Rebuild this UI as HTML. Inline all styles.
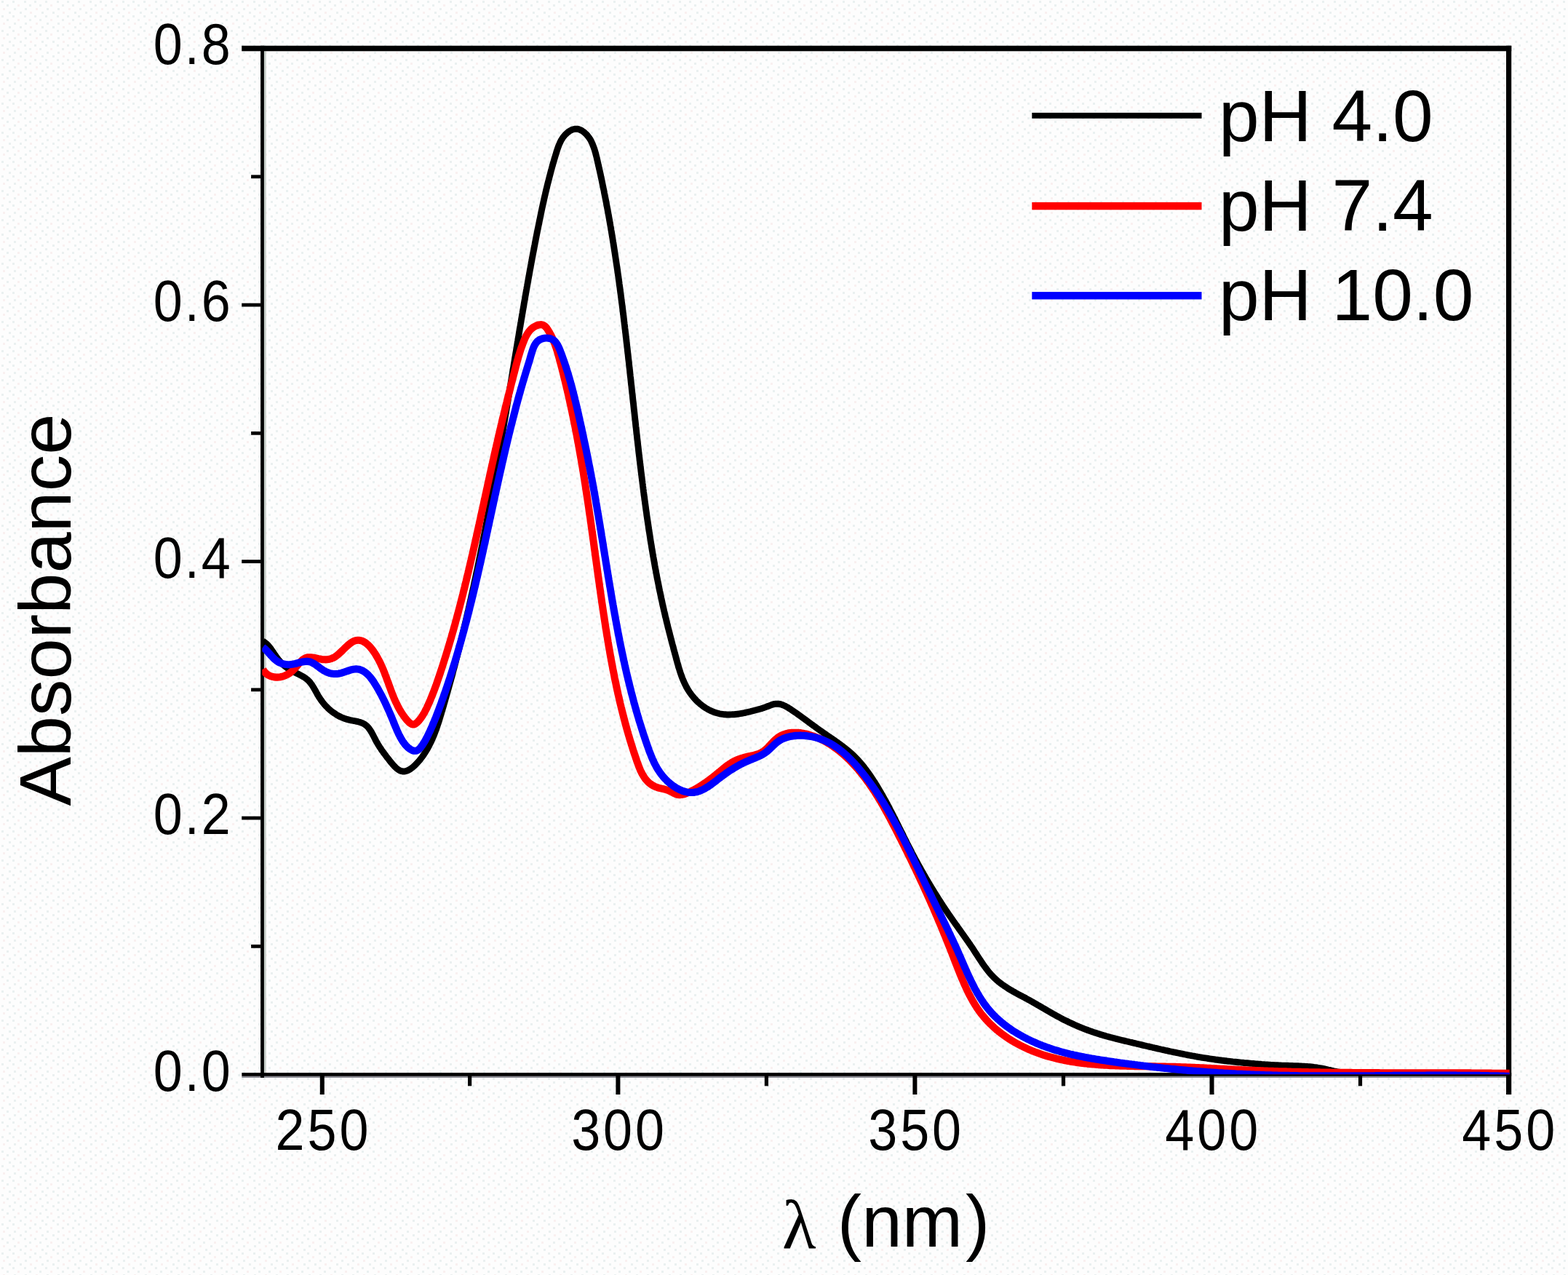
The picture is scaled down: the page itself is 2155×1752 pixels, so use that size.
<!DOCTYPE html>
<html lang="en"><head><meta charset="utf-8"><title>Absorbance spectra at pH 4.0, 7.4 and 10.0</title>
<style>
html,body{margin:0;padding:0;background:#fdfdfd;}
body{width:2155px;height:1752px;overflow:hidden;}
svg{display:block;}
text{font-family:"Liberation Sans",sans-serif;fill:#000;}
.tick{font-size:79px;}
.lab{font-size:100px;}
.sym{font-family:"Liberation Serif",serif;font-size:96px;}
</style></head><body>
<svg width="2155" height="1752" viewBox="0 0 2155 1752">
<defs><clipPath id="frame"><rect x="360.3" y="66.5" width="1714.3" height="1409.7"/></clipPath>
<pattern id="dots" width="45" height="20" patternUnits="userSpaceOnUse"><g fill="#e3ecec"><rect x="2" y="1" width="3" height="3"/><rect x="17" y="1" width="3" height="3"/><rect x="33" y="1" width="3" height="3"/><rect x="9" y="6" width="3" height="3"/><rect x="40" y="6" width="3" height="3"/><rect x="19" y="11" width="3" height="3"/><rect x="34" y="11" width="3" height="3"/><rect x="12" y="16" width="3" height="3"/><rect x="27" y="16" width="3" height="3"/></g><g fill="#f8ecec"><rect x="24" y="6" width="3" height="3"/><rect x="4" y="11" width="3" height="3"/><rect x="41" y="16" width="3" height="3"/></g></pattern></defs>
<rect width="2155" height="1752" fill="#fdfdfd"/>
<rect width="2155" height="1752" fill="url(#dots)" opacity="0.75"/>
<g>
<rect x="362.90" y="70.30" width="2.80" height="1403.80" fill="#c6cec8"/>
<rect x="332.30" y="1478.80" width="1737.70" height="2.20" fill="#8c8c94"/>
<rect x="332.20" y="62.80" width="1745.00" height="7.50" fill="#000"/>
<rect x="2070.00" y="62.80" width="7.20" height="1441.20" fill="#000"/>
<rect x="358.10" y="62.80" width="4.80" height="1418.20" fill="#000"/>
<rect x="332.30" y="1474.10" width="1744.90" height="4.70" fill="#000"/>
<rect x="332.20" y="1121.68" width="26.00" height="4.80" fill="#000"/>
<rect x="332.20" y="769.16" width="26.00" height="4.80" fill="#000"/>
<rect x="332.20" y="416.64" width="26.00" height="4.80" fill="#000"/>
<rect x="345.10" y="1297.94" width="13.10" height="4.80" fill="#000"/>
<rect x="345.10" y="945.42" width="13.10" height="4.80" fill="#000"/>
<rect x="345.10" y="592.90" width="13.10" height="4.80" fill="#000"/>
<rect x="345.10" y="240.38" width="13.10" height="4.80" fill="#000"/>
<rect x="439.80" y="1478.00" width="6.00" height="26.00" fill="#000"/>
<rect x="846.40" y="1478.00" width="6.00" height="26.00" fill="#000"/>
<rect x="1254.40" y="1478.00" width="6.00" height="26.00" fill="#000"/>
<rect x="1662.50" y="1478.00" width="6.00" height="26.00" fill="#000"/>
<rect x="643.00" y="1478.00" width="5.20" height="14.30" fill="#000"/>
<rect x="1050.80" y="1478.00" width="5.20" height="14.30" fill="#000"/>
<rect x="1458.90" y="1478.00" width="5.20" height="14.30" fill="#000"/>
<rect x="1866.90" y="1478.00" width="5.20" height="14.30" fill="#000"/>
</g>
<g clip-path="url(#frame)" fill="none" stroke-linejoin="round" stroke-linecap="butt">
<path stroke="#000000" stroke-width="8.9" d="M361.1 881.0 L362.9 882.1 L364.5 883.3 L366.1 884.5 L367.5 885.9 L368.9 887.4 L370.2 888.9 L371.5 890.5 L372.7 892.1 L373.8 893.8 L375.0 895.5 L376.1 897.2 L377.2 898.9 L378.4 900.5 L379.5 902.2 L380.7 903.9 L381.9 905.4 L383.1 907.0 L384.4 908.5 L385.7 910.0 L387.1 911.4 L388.5 912.7 L389.9 914.1 L391.4 915.3 L392.9 916.5 L394.5 917.7 L396.1 918.8 L397.7 919.9 L399.4 920.9 L401.2 921.9 L402.9 922.8 L404.7 923.7 L406.5 924.6 L408.3 925.4 L410.1 926.3 L411.9 927.2 L413.6 928.1 L415.4 929.1 L417.1 930.1 L418.7 931.1 L420.3 932.2 L421.8 933.4 L423.3 934.7 L424.7 936.0 L426.0 937.5 L427.2 939.1 L428.4 940.7 L429.5 942.4 L430.6 944.1 L431.6 945.9 L432.7 947.7 L433.7 949.5 L434.7 951.3 L435.7 953.2 L436.7 955.0 L437.8 956.8 L438.9 958.5 L440.0 960.2 L441.2 961.9 L442.4 963.6 L443.6 965.2 L444.9 966.8 L446.2 968.3 L447.5 969.8 L448.9 971.2 L450.3 972.6 L451.7 974.0 L453.2 975.3 L454.7 976.6 L456.2 977.8 L457.8 978.9 L459.4 980.1 L461.0 981.1 L462.6 982.2 L464.3 983.1 L466.0 984.1 L467.7 984.9 L469.5 985.7 L471.3 986.5 L473.1 987.2 L474.9 987.8 L476.8 988.4 L478.7 988.9 L480.6 989.4 L482.6 989.8 L484.5 990.2 L486.5 990.5 L488.4 990.9 L490.3 991.3 L492.2 991.7 L494.1 992.2 L495.9 992.8 L497.7 993.5 L499.4 994.3 L501.0 995.2 L502.5 996.3 L504.0 997.5 L505.4 998.9 L506.7 1000.4 L507.9 1002.1 L509.1 1003.8 L510.2 1005.6 L511.3 1007.5 L512.3 1009.4 L513.3 1011.3 L514.3 1013.2 L515.3 1015.1 L516.2 1017.0 L517.2 1018.8 L518.2 1020.6 L519.2 1022.3 L520.2 1023.9 L521.2 1025.6 L522.2 1027.2 L523.3 1028.7 L524.3 1030.3 L525.4 1031.8 L526.6 1033.4 L527.7 1035.0 L528.9 1036.5 L530.1 1038.2 L531.3 1039.8 L532.6 1041.5 L534.0 1043.2 L535.3 1045.0 L536.7 1046.8 L538.2 1048.5 L539.6 1050.2 L541.1 1051.9 L542.6 1053.5 L544.2 1055.0 L545.7 1056.3 L547.3 1057.4 L548.9 1058.4 L550.5 1059.2 L552.1 1059.7 L553.8 1060.0 L555.4 1060.0 L557.0 1059.8 L558.6 1059.4 L560.3 1058.8 L561.9 1058.0 L563.4 1057.1 L565.0 1056.0 L566.6 1054.8 L568.1 1053.6 L569.6 1052.2 L571.1 1050.8 L572.5 1049.3 L573.9 1047.8 L575.3 1046.3 L576.6 1044.7 L577.9 1043.1 L579.2 1041.4 L580.4 1039.8 L581.6 1038.1 L582.8 1036.4 L583.9 1034.7 L585.0 1032.9 L586.1 1031.2 L587.1 1029.4 L588.1 1027.7 L589.1 1025.9 L590.0 1024.1 L590.9 1022.3 L591.8 1020.5 L592.7 1018.7 L593.5 1016.9 L594.3 1015.0 L595.1 1013.2 L595.9 1011.4 L596.7 1009.5 L597.4 1007.7 L598.1 1005.8 L598.8 1004.0 L599.5 1002.1 L600.1 1000.2 L600.8 998.4 L601.4 996.5 L602.0 994.6 L602.7 992.7 L603.3 990.8 L603.9 988.9 L604.4 987.0 L605.0 985.1 L605.6 983.2 L606.2 981.3 L606.7 979.4 L607.3 977.5 L607.9 975.6 L608.4 973.7 L609.0 971.8 L609.6 969.8 L610.1 967.9 L610.7 966.0 L611.2 964.1 L611.8 962.2 L612.3 960.2 L612.9 958.3 L613.4 956.4 L614.0 954.5 L614.5 952.5 L615.1 950.6 L615.6 948.7 L616.2 946.7 L616.7 944.8 L617.2 942.9 L617.8 941.0 L618.3 939.0 L618.8 937.1 L619.4 935.2 L619.9 933.2 L620.4 931.3 L621.0 929.4 L621.5 927.4 L622.0 925.5 L622.5 923.5 L623.0 921.6 L623.5 919.7 L624.1 917.7 L624.6 915.8 L625.1 913.9 L625.6 911.9 L626.1 910.0 L626.6 908.0 L627.1 906.1 L627.6 904.2 L628.1 902.2 L628.6 900.3 L629.1 898.3 L629.6 896.4 L630.1 894.5 L630.6 892.5 L631.1 890.6 L631.6 888.6 L632.0 886.7 L632.5 884.7 L633.0 882.8 L633.5 880.9 L634.0 878.9 L634.5 877.0 L634.9 875.0 L635.4 873.1 L635.9 871.1 L636.3 869.2 L636.8 867.2 L637.3 865.3 L637.8 863.3 L638.2 861.4 L638.7 859.5 L639.1 857.5 L639.6 855.6 L640.1 853.6 L640.5 851.7 L641.0 849.7 L641.4 847.8 L641.9 845.8 L642.3 843.9 L642.8 841.9 L643.2 840.0 L643.7 838.0 L644.1 836.1 L644.6 834.1 L645.0 832.2 L645.5 830.2 L645.9 828.3 L646.3 826.3 L646.8 824.3 L647.2 822.4 L647.6 820.4 L648.1 818.5 L648.5 816.5 L648.9 814.6 L649.4 812.6 L649.8 810.7 L650.2 808.7 L650.7 806.8 L651.1 804.8 L651.5 802.9 L651.9 800.9 L652.3 798.9 L652.8 797.0 L653.2 795.0 L653.6 793.1 L654.0 791.1 L654.4 789.2 L654.8 787.2 L655.3 785.2 L655.7 783.3 L656.1 781.3 L656.5 779.4 L656.9 777.4 L657.3 775.5 L657.7 773.5 L658.1 771.5 L658.5 769.6 L658.9 767.6 L659.3 765.7 L659.7 763.7 L660.1 761.7 L660.5 759.8 L660.9 757.8 L661.3 755.8 L661.7 753.9 L662.1 751.9 L662.5 750.0 L662.9 748.0 L663.2 746.0 L663.6 744.1 L664.0 742.1 L664.4 740.2 L664.8 738.2 L665.2 736.2 L665.6 734.3 L665.9 732.3 L666.3 730.3 L666.7 728.4 L667.1 726.4 L667.5 724.4 L667.8 722.5 L668.2 720.5 L668.6 718.5 L669.0 716.6 L669.3 714.6 L669.7 712.6 L670.1 710.7 L670.4 708.7 L670.8 706.8 L671.2 704.8 L671.6 702.8 L671.9 700.9 L672.3 698.9 L672.7 696.9 L673.0 695.0 L673.4 693.0 L673.7 691.0 L674.1 689.0 L674.5 687.1 L674.8 685.1 L675.2 683.1 L675.5 681.2 L675.9 679.2 L676.3 677.2 L676.6 675.3 L677.0 673.3 L677.3 671.3 L677.7 669.4 L678.0 667.4 L678.4 665.4 L678.7 663.5 L679.1 661.5 L679.4 659.5 L679.8 657.5 L680.1 655.6 L680.5 653.6 L680.8 651.6 L681.2 649.7 L681.5 647.7 L681.9 645.7 L682.2 643.7 L682.6 641.8 L682.9 639.8 L683.3 637.8 L683.6 635.9 L684.0 633.9 L684.3 631.9 L684.6 629.9 L685.0 628.0 L685.3 626.0 L685.7 624.0 L686.0 622.1 L686.3 620.1 L686.7 618.1 L687.0 616.1 L687.4 614.2 L687.7 612.2 L688.0 610.2 L688.4 608.2 L688.7 606.3 L689.0 604.3 L689.4 602.3 L689.7 600.4 L690.1 598.4 L690.4 596.4 L690.7 594.4 L691.1 592.5 L691.4 590.5 L691.7 588.5 L692.1 586.5 L692.4 584.6 L692.7 582.6 L693.0 580.6 L693.4 578.6 L693.7 576.7 L694.0 574.7 L694.4 572.7 L694.7 570.7 L695.0 568.8 L695.4 566.8 L695.7 564.8 L696.0 562.8 L696.3 560.9 L696.7 558.9 L697.0 556.9 L697.3 554.9 L697.7 553.0 L698.0 551.0 L698.3 549.0 L698.6 547.0 L699.0 545.1 L699.3 543.1 L699.6 541.1 L699.9 539.1 L700.3 537.2 L700.6 535.2 L700.9 533.2 L701.2 531.2 L701.6 529.3 L701.9 527.3 L702.2 525.3 L702.5 523.3 L702.9 521.4 L703.2 519.4 L703.5 517.4 L703.8 515.4 L704.2 513.5 L704.5 511.5 L704.8 509.5 L705.1 507.5 L705.5 505.6 L705.8 503.6 L706.1 501.6 L706.4 499.6 L706.8 497.7 L707.1 495.7 L707.4 493.7 L707.7 491.7 L708.1 489.7 L708.4 487.8 L708.7 485.8 L709.1 483.8 L709.4 481.8 L709.7 479.9 L710.0 477.9 L710.4 475.9 L710.7 473.9 L711.0 472.0 L711.3 470.0 L711.7 468.0 L712.0 466.0 L712.3 464.1 L712.7 462.1 L713.0 460.1 L713.3 458.1 L713.6 456.2 L714.0 454.2 L714.3 452.2 L714.6 450.2 L715.0 448.3 L715.3 446.3 L715.6 444.3 L716.0 442.3 L716.3 440.4 L716.6 438.4 L717.0 436.4 L717.3 434.5 L717.6 432.5 L718.0 430.5 L718.3 428.5 L718.6 426.6 L719.0 424.6 L719.3 422.6 L719.7 420.6 L720.0 418.7 L720.3 416.7 L720.7 414.7 L721.0 412.8 L721.4 410.8 L721.7 408.8 L722.0 406.8 L722.4 404.9 L722.7 402.9 L723.1 400.9 L723.4 399.0 L723.8 397.0 L724.1 395.0 L724.5 393.0 L724.8 391.1 L725.2 389.1 L725.5 387.1 L725.9 385.2 L726.2 383.2 L726.6 381.2 L726.9 379.3 L727.3 377.3 L727.6 375.3 L728.0 373.4 L728.3 371.4 L728.7 369.4 L729.1 367.5 L729.4 365.5 L729.8 363.5 L730.1 361.6 L730.5 359.6 L730.9 357.6 L731.2 355.7 L731.6 353.7 L732.0 351.7 L732.3 349.8 L732.7 347.8 L733.1 345.8 L733.5 343.9 L733.8 341.9 L734.2 339.9 L734.6 338.0 L735.0 336.0 L735.3 334.1 L735.7 332.1 L736.1 330.1 L736.5 328.2 L736.9 326.2 L737.2 324.3 L737.6 322.3 L738.0 320.3 L738.4 318.4 L738.8 316.4 L739.2 314.5 L739.6 312.5 L740.0 310.5 L740.4 308.6 L740.8 306.6 L741.2 304.7 L741.6 302.7 L742.0 300.8 L742.4 298.8 L742.8 296.8 L743.2 294.9 L743.6 292.9 L744.0 291.0 L744.4 289.0 L744.8 287.1 L745.2 285.1 L745.7 283.2 L746.1 281.2 L746.5 279.3 L747.0 277.3 L747.4 275.4 L747.8 273.4 L748.3 271.4 L748.7 269.5 L749.2 267.5 L749.6 265.6 L750.1 263.6 L750.5 261.7 L751.0 259.7 L751.5 257.8 L751.9 255.8 L752.4 253.9 L752.9 251.9 L753.4 250.0 L753.9 248.1 L754.4 246.1 L754.9 244.2 L755.4 242.2 L755.9 240.3 L756.4 238.3 L756.9 236.4 L757.4 234.4 L758.0 232.5 L758.5 230.5 L759.0 228.6 L759.6 226.6 L760.1 224.7 L760.7 222.8 L761.3 220.8 L761.8 218.9 L762.4 216.9 L763.0 215.0 L763.6 213.0 L764.2 211.1 L764.8 209.1 L765.4 207.2 L766.0 205.3 L766.7 203.3 L767.4 201.4 L768.1 199.5 L768.9 197.7 L769.7 195.9 L770.6 194.1 L771.5 192.3 L772.6 190.6 L773.7 188.9 L774.9 187.3 L776.2 185.8 L777.6 184.3 L779.2 182.9 L780.8 181.5 L782.5 180.3 L784.3 179.2 L786.2 178.3 L788.0 177.7 L789.9 177.2 L791.8 177.1 L793.6 177.2 L795.4 177.6 L797.1 178.3 L798.8 179.1 L800.4 180.1 L801.9 181.1 L803.3 182.2 L804.6 183.4 L805.9 184.6 L807.1 186.0 L808.2 187.3 L809.3 188.8 L810.3 190.3 L811.3 191.8 L812.2 193.4 L813.0 195.1 L813.8 196.8 L814.5 198.5 L815.2 200.3 L815.9 202.1 L816.5 203.9 L817.2 205.8 L817.7 207.7 L818.3 209.6 L818.8 211.5 L819.3 213.5 L819.8 215.5 L820.3 217.4 L820.7 219.4 L821.2 221.4 L821.6 223.4 L822.1 225.3 L822.5 227.3 L823.0 229.3 L823.4 231.3 L823.9 233.3 L824.3 235.2 L824.7 237.2 L825.2 239.2 L825.6 241.2 L826.0 243.2 L826.5 245.2 L826.9 247.1 L827.3 249.1 L827.7 251.1 L828.1 253.1 L828.5 255.1 L828.9 257.0 L829.3 259.0 L829.8 261.0 L830.2 263.0 L830.5 265.0 L830.9 267.0 L831.3 268.9 L831.7 270.9 L832.1 272.9 L832.5 274.9 L832.9 276.9 L833.3 278.8 L833.6 280.8 L834.0 282.8 L834.4 284.8 L834.8 286.8 L835.1 288.7 L835.5 290.7 L835.8 292.7 L836.2 294.7 L836.6 296.7 L836.9 298.7 L837.3 300.6 L837.6 302.6 L838.0 304.6 L838.3 306.6 L838.7 308.6 L839.0 310.5 L839.4 312.5 L839.7 314.5 L840.0 316.5 L840.4 318.5 L840.7 320.5 L841.0 322.4 L841.3 324.4 L841.7 326.4 L842.0 328.4 L842.3 330.4 L842.6 332.3 L843.0 334.3 L843.3 336.3 L843.6 338.3 L843.9 340.3 L844.2 342.3 L844.5 344.2 L844.8 346.2 L845.1 348.2 L845.4 350.2 L845.7 352.2 L846.0 354.1 L846.3 356.1 L846.6 358.1 L846.9 360.1 L847.2 362.1 L847.5 364.1 L847.8 366.0 L848.1 368.0 L848.4 370.0 L848.7 372.0 L848.9 374.0 L849.2 375.9 L849.5 377.9 L849.8 379.9 L850.1 381.9 L850.3 383.9 L850.6 385.9 L850.9 387.8 L851.1 389.8 L851.4 391.8 L851.7 393.8 L852.0 395.8 L852.2 397.8 L852.5 399.7 L852.7 401.7 L853.0 403.7 L853.3 405.7 L853.5 407.7 L853.8 409.7 L854.0 411.6 L854.3 413.6 L854.5 415.6 L854.8 417.6 L855.1 419.6 L855.3 421.5 L855.6 423.5 L855.8 425.5 L856.0 427.5 L856.3 429.5 L856.5 431.5 L856.8 433.4 L857.0 435.4 L857.3 437.4 L857.5 439.4 L857.7 441.4 L858.0 443.4 L858.2 445.3 L858.5 447.3 L858.7 449.3 L858.9 451.3 L859.2 453.3 L859.4 455.3 L859.6 457.2 L859.9 459.2 L860.1 461.2 L860.3 463.2 L860.6 465.2 L860.8 467.2 L861.0 469.2 L861.2 471.1 L861.5 473.1 L861.7 475.1 L861.9 477.1 L862.2 479.1 L862.4 481.1 L862.6 483.0 L862.8 485.0 L863.1 487.0 L863.3 489.0 L863.5 491.0 L863.7 493.0 L863.9 494.9 L864.2 496.9 L864.4 498.9 L864.6 500.9 L864.8 502.9 L865.0 504.9 L865.3 506.9 L865.5 508.8 L865.7 510.8 L865.9 512.8 L866.1 514.8 L866.3 516.8 L866.6 518.8 L866.8 520.8 L867.0 522.7 L867.2 524.7 L867.4 526.7 L867.6 528.7 L867.9 530.7 L868.1 532.7 L868.3 534.7 L868.5 536.6 L868.7 538.6 L868.9 540.6 L869.2 542.6 L869.4 544.6 L869.6 546.6 L869.8 548.6 L870.0 550.5 L870.2 552.5 L870.5 554.5 L870.7 556.5 L870.9 558.5 L871.1 560.5 L871.3 562.5 L871.5 564.4 L871.8 566.4 L872.0 568.4 L872.2 570.4 L872.4 572.4 L872.6 574.4 L872.8 576.4 L873.1 578.3 L873.3 580.3 L873.5 582.3 L873.7 584.3 L873.9 586.3 L874.2 588.3 L874.4 590.3 L874.6 592.3 L874.8 594.2 L875.0 596.2 L875.3 598.2 L875.5 600.2 L875.7 602.2 L875.9 604.2 L876.2 606.2 L876.4 608.2 L876.6 610.1 L876.8 612.1 L877.1 614.1 L877.3 616.1 L877.5 618.1 L877.7 620.1 L878.0 622.1 L878.2 624.1 L878.4 626.1 L878.7 628.0 L878.9 630.0 L879.1 632.0 L879.4 634.0 L879.6 636.0 L879.8 638.0 L880.1 640.0 L880.3 642.0 L880.6 644.0 L880.8 645.9 L881.0 647.9 L881.3 649.9 L881.5 651.9 L881.8 653.9 L882.0 655.9 L882.3 657.9 L882.5 659.9 L882.8 661.9 L883.0 663.8 L883.3 665.8 L883.5 667.8 L883.8 669.8 L884.0 671.8 L884.3 673.8 L884.5 675.8 L884.8 677.8 L885.0 679.8 L885.3 681.7 L885.6 683.7 L885.8 685.7 L886.1 687.7 L886.4 689.7 L886.6 691.7 L886.9 693.7 L887.2 695.7 L887.5 697.6 L887.7 699.6 L888.0 701.6 L888.3 703.6 L888.6 705.6 L888.8 707.6 L889.1 709.6 L889.4 711.5 L889.7 713.5 L890.0 715.5 L890.3 717.5 L890.6 719.5 L890.9 721.5 L891.2 723.4 L891.4 725.4 L891.7 727.4 L892.0 729.4 L892.4 731.4 L892.7 733.4 L893.0 735.3 L893.3 737.3 L893.6 739.3 L893.9 741.3 L894.2 743.3 L894.5 745.2 L894.8 747.2 L895.2 749.2 L895.5 751.2 L895.8 753.1 L896.1 755.1 L896.5 757.1 L896.8 759.1 L897.1 761.1 L897.5 763.0 L897.8 765.0 L898.2 767.0 L898.5 768.9 L898.9 770.9 L899.2 772.9 L899.6 774.9 L899.9 776.8 L900.3 778.8 L900.6 780.8 L901.0 782.7 L901.4 784.7 L901.7 786.7 L902.1 788.6 L902.5 790.6 L902.8 792.6 L903.2 794.5 L903.6 796.5 L904.0 798.5 L904.4 800.4 L904.8 802.4 L905.2 804.3 L905.5 806.3 L905.9 808.3 L906.3 810.2 L906.7 812.2 L907.2 814.1 L907.6 816.1 L908.0 818.1 L908.4 820.0 L908.8 822.0 L909.2 823.9 L909.7 825.9 L910.1 827.8 L910.5 829.8 L910.9 831.7 L911.4 833.7 L911.8 835.6 L912.3 837.6 L912.7 839.5 L913.2 841.5 L913.6 843.4 L914.1 845.3 L914.5 847.3 L915.0 849.2 L915.5 851.2 L915.9 853.1 L916.4 855.0 L916.9 857.0 L917.4 858.9 L917.8 860.9 L918.3 862.8 L918.8 864.7 L919.3 866.7 L919.8 868.6 L920.3 870.5 L920.8 872.5 L921.3 874.4 L921.8 876.3 L922.3 878.3 L922.8 880.2 L923.3 882.1 L923.8 884.1 L924.3 886.0 L924.9 887.9 L925.4 889.9 L925.9 891.8 L926.4 893.8 L926.9 895.7 L927.4 897.6 L928.0 899.6 L928.5 901.5 L929.0 903.5 L929.5 905.4 L930.1 907.4 L930.6 909.3 L931.1 911.3 L931.7 913.2 L932.2 915.1 L932.8 917.1 L933.4 919.0 L934.0 920.9 L934.6 922.8 L935.2 924.7 L935.9 926.6 L936.5 928.5 L937.2 930.4 L937.9 932.2 L938.7 934.1 L939.5 935.9 L940.3 937.7 L941.1 939.5 L942.0 941.3 L942.9 943.1 L943.8 944.8 L944.8 946.5 L945.8 948.2 L946.9 949.9 L948.0 951.6 L949.2 953.2 L950.4 954.8 L951.6 956.4 L952.9 957.9 L954.2 959.5 L955.5 960.9 L956.9 962.4 L958.3 963.8 L959.8 965.2 L961.3 966.5 L962.8 967.8 L964.4 969.0 L966.0 970.2 L967.6 971.4 L969.2 972.5 L970.9 973.5 L972.6 974.5 L974.3 975.4 L976.1 976.3 L977.9 977.2 L979.7 977.9 L981.5 978.6 L983.4 979.3 L985.2 979.8 L987.1 980.3 L989.0 980.8 L990.9 981.1 L992.9 981.4 L994.8 981.7 L996.8 981.8 L998.8 982.0 L1000.8 982.0 L1002.8 982.0 L1004.8 981.9 L1006.8 981.8 L1008.8 981.7 L1010.9 981.5 L1012.9 981.3 L1014.9 981.0 L1017.0 980.7 L1019.0 980.3 L1021.0 980.0 L1023.0 979.6 L1025.0 979.1 L1027.0 978.7 L1029.0 978.2 L1031.0 977.8 L1032.9 977.3 L1034.9 976.8 L1036.8 976.3 L1038.7 975.8 L1040.6 975.3 L1042.5 974.7 L1044.4 974.2 L1046.2 973.7 L1048.0 973.1 L1049.9 972.5 L1051.7 971.9 L1053.5 971.2 L1055.3 970.5 L1057.1 969.8 L1059.0 969.1 L1060.8 968.4 L1062.6 967.9 L1064.4 967.4 L1066.2 967.2 L1068.0 967.1 L1069.8 967.2 L1071.6 967.4 L1073.4 967.9 L1075.1 968.5 L1076.9 969.2 L1078.7 970.0 L1080.4 970.9 L1082.2 971.9 L1083.9 972.9 L1085.6 974.0 L1087.3 975.1 L1089.0 976.3 L1090.7 977.4 L1092.4 978.6 L1094.0 979.7 L1095.7 980.9 L1097.3 982.0 L1098.9 983.2 L1100.5 984.3 L1102.1 985.5 L1103.7 986.7 L1105.3 987.8 L1106.9 989.0 L1108.5 990.1 L1110.0 991.3 L1111.6 992.5 L1113.2 993.6 L1114.7 994.8 L1116.3 995.9 L1117.9 997.1 L1119.5 998.2 L1121.1 999.4 L1122.6 1000.5 L1124.2 1001.7 L1125.8 1002.8 L1127.4 1004.0 L1129.1 1005.1 L1130.7 1006.2 L1132.3 1007.4 L1134.0 1008.5 L1135.6 1009.6 L1137.3 1010.8 L1138.9 1011.9 L1140.6 1013.0 L1142.2 1014.2 L1143.9 1015.3 L1145.5 1016.5 L1147.2 1017.6 L1148.9 1018.8 L1150.5 1020.0 L1152.1 1021.1 L1153.8 1022.3 L1155.4 1023.5 L1157.0 1024.7 L1158.6 1025.9 L1160.2 1027.2 L1161.8 1028.4 L1163.4 1029.7 L1164.9 1030.9 L1166.5 1032.2 L1168.0 1033.5 L1169.5 1034.9 L1171.0 1036.2 L1172.5 1037.6 L1173.9 1038.9 L1175.3 1040.3 L1176.7 1041.8 L1178.1 1043.2 L1179.4 1044.7 L1180.8 1046.1 L1182.1 1047.6 L1183.4 1049.1 L1184.7 1050.6 L1185.9 1052.2 L1187.2 1053.7 L1188.4 1055.3 L1189.6 1056.9 L1190.8 1058.5 L1192.0 1060.1 L1193.2 1061.7 L1194.3 1063.3 L1195.5 1065.0 L1196.6 1066.6 L1197.7 1068.3 L1198.8 1069.9 L1199.9 1071.6 L1201.0 1073.3 L1202.1 1075.0 L1203.1 1076.6 L1204.2 1078.3 L1205.2 1080.0 L1206.3 1081.8 L1207.3 1083.5 L1208.3 1085.2 L1209.3 1086.9 L1210.3 1088.6 L1211.3 1090.4 L1212.3 1092.1 L1213.3 1093.8 L1214.3 1095.6 L1215.2 1097.3 L1216.2 1099.1 L1217.2 1100.8 L1218.1 1102.6 L1219.1 1104.3 L1220.0 1106.1 L1221.0 1107.9 L1221.9 1109.6 L1222.8 1111.4 L1223.7 1113.2 L1224.7 1114.9 L1225.6 1116.7 L1226.5 1118.5 L1227.4 1120.3 L1228.3 1122.1 L1229.2 1123.8 L1230.1 1125.6 L1231.0 1127.4 L1231.9 1129.2 L1232.8 1131.0 L1233.7 1132.8 L1234.6 1134.6 L1235.5 1136.4 L1236.4 1138.2 L1237.3 1140.0 L1238.2 1141.8 L1239.1 1143.5 L1240.0 1145.3 L1240.9 1147.1 L1241.7 1148.9 L1242.6 1150.7 L1243.5 1152.5 L1244.4 1154.3 L1245.3 1156.1 L1246.2 1157.9 L1247.1 1159.7 L1248.0 1161.5 L1249.0 1163.3 L1249.9 1165.0 L1250.8 1166.8 L1251.7 1168.6 L1252.6 1170.4 L1253.5 1172.2 L1254.5 1173.9 L1255.4 1175.7 L1256.3 1177.5 L1257.3 1179.3 L1258.2 1181.0 L1259.2 1182.8 L1260.1 1184.6 L1261.1 1186.3 L1262.1 1188.1 L1263.0 1189.8 L1264.0 1191.6 L1265.0 1193.3 L1265.9 1195.1 L1266.9 1196.8 L1267.9 1198.6 L1268.9 1200.3 L1269.9 1202.1 L1270.9 1203.8 L1271.9 1205.5 L1272.9 1207.3 L1273.9 1209.0 L1274.9 1210.7 L1275.9 1212.5 L1277.0 1214.2 L1278.0 1215.9 L1279.0 1217.6 L1280.0 1219.3 L1281.1 1221.0 L1282.1 1222.7 L1283.2 1224.4 L1284.2 1226.2 L1285.3 1227.8 L1286.3 1229.5 L1287.4 1231.2 L1288.5 1232.9 L1289.5 1234.6 L1290.6 1236.3 L1291.7 1238.0 L1292.8 1239.7 L1293.8 1241.3 L1294.9 1243.0 L1296.0 1244.7 L1297.1 1246.3 L1298.2 1248.0 L1299.3 1249.7 L1300.5 1251.3 L1301.6 1253.0 L1302.7 1254.6 L1303.8 1256.3 L1304.9 1257.9 L1306.1 1259.5 L1307.2 1261.2 L1308.4 1262.8 L1309.5 1264.4 L1310.6 1266.1 L1311.8 1267.7 L1312.9 1269.3 L1314.1 1270.9 L1315.3 1272.5 L1316.4 1274.2 L1317.6 1275.8 L1318.7 1277.4 L1319.9 1279.0 L1321.1 1280.7 L1322.2 1282.3 L1323.4 1283.9 L1324.5 1285.5 L1325.7 1287.2 L1326.8 1288.8 L1328.0 1290.4 L1329.1 1292.1 L1330.3 1293.7 L1331.4 1295.4 L1332.6 1297.0 L1333.7 1298.7 L1334.8 1300.3 L1336.0 1302.0 L1337.1 1303.7 L1338.2 1305.4 L1339.3 1307.1 L1340.4 1308.8 L1341.5 1310.5 L1342.6 1312.2 L1343.7 1313.9 L1344.8 1315.6 L1345.9 1317.3 L1347.1 1319.0 L1348.2 1320.7 L1349.3 1322.3 L1350.4 1324.0 L1351.6 1325.7 L1352.7 1327.3 L1353.9 1328.9 L1355.1 1330.5 L1356.3 1332.1 L1357.5 1333.7 L1358.8 1335.3 L1360.1 1336.8 L1361.4 1338.3 L1362.7 1339.8 L1364.0 1341.2 L1365.4 1342.6 L1366.8 1344.0 L1368.2 1345.3 L1369.7 1346.7 L1371.1 1347.9 L1372.7 1349.2 L1374.2 1350.4 L1375.8 1351.6 L1377.4 1352.8 L1379.0 1353.9 L1380.6 1355.0 L1382.3 1356.1 L1383.9 1357.2 L1385.6 1358.3 L1387.3 1359.3 L1389.0 1360.3 L1390.8 1361.4 L1392.5 1362.4 L1394.3 1363.3 L1396.0 1364.3 L1397.8 1365.3 L1399.6 1366.3 L1401.3 1367.2 L1403.1 1368.2 L1404.9 1369.1 L1406.7 1370.1 L1408.5 1371.0 L1410.3 1372.0 L1412.0 1373.0 L1413.8 1373.9 L1415.6 1374.9 L1417.3 1375.9 L1419.1 1376.9 L1420.8 1377.9 L1422.6 1378.9 L1424.3 1379.9 L1426.0 1380.9 L1427.8 1381.9 L1429.5 1382.9 L1431.2 1383.9 L1432.9 1384.9 L1434.7 1385.9 L1436.4 1386.9 L1438.1 1387.9 L1439.8 1388.9 L1441.6 1389.9 L1443.3 1390.9 L1445.0 1391.9 L1446.7 1392.9 L1448.5 1393.9 L1450.2 1394.8 L1452.0 1395.8 L1453.7 1396.7 L1455.5 1397.7 L1457.2 1398.6 L1459.0 1399.6 L1460.7 1400.5 L1462.5 1401.4 L1464.3 1402.3 L1466.1 1403.1 L1467.9 1404.0 L1469.7 1404.9 L1471.5 1405.7 L1473.3 1406.6 L1475.1 1407.4 L1476.9 1408.2 L1478.7 1409.0 L1480.6 1409.8 L1482.4 1410.6 L1484.2 1411.3 L1486.1 1412.1 L1487.9 1412.8 L1489.8 1413.6 L1491.6 1414.3 L1493.5 1415.0 L1495.4 1415.7 L1497.2 1416.4 L1499.1 1417.1 L1501.0 1417.7 L1502.9 1418.4 L1504.7 1419.0 L1506.6 1419.6 L1508.5 1420.2 L1510.4 1420.8 L1512.3 1421.4 L1514.2 1422.0 L1516.1 1422.6 L1518.1 1423.1 L1520.0 1423.7 L1521.9 1424.2 L1523.8 1424.7 L1525.7 1425.3 L1527.7 1425.8 L1529.6 1426.3 L1531.5 1426.8 L1533.4 1427.3 L1535.4 1427.7 L1537.3 1428.2 L1539.2 1428.7 L1541.2 1429.2 L1543.1 1429.7 L1545.1 1430.1 L1547.0 1430.6 L1548.9 1431.0 L1550.9 1431.5 L1552.8 1432.0 L1554.8 1432.4 L1556.7 1432.9 L1558.7 1433.3 L1560.6 1433.8 L1562.5 1434.3 L1564.5 1434.7 L1566.4 1435.2 L1568.4 1435.6 L1570.3 1436.1 L1572.3 1436.6 L1574.2 1437.0 L1576.2 1437.5 L1578.1 1437.9 L1580.1 1438.4 L1582.0 1438.8 L1584.0 1439.3 L1585.9 1439.7 L1587.9 1440.2 L1589.8 1440.6 L1591.8 1441.1 L1593.7 1441.5 L1595.7 1442.0 L1597.6 1442.4 L1599.6 1442.8 L1601.5 1443.3 L1603.5 1443.7 L1605.4 1444.1 L1607.4 1444.6 L1609.3 1445.0 L1611.3 1445.4 L1613.2 1445.8 L1615.2 1446.2 L1617.2 1446.6 L1619.1 1447.0 L1621.1 1447.4 L1623.0 1447.8 L1625.0 1448.2 L1627.0 1448.6 L1628.9 1449.0 L1630.9 1449.4 L1632.8 1449.8 L1634.8 1450.2 L1636.8 1450.5 L1638.7 1450.9 L1640.7 1451.2 L1642.7 1451.6 L1644.7 1452.0 L1646.6 1452.3 L1648.6 1452.6 L1650.6 1453.0 L1652.5 1453.3 L1654.5 1453.6 L1656.5 1453.9 L1658.5 1454.2 L1660.4 1454.5 L1662.4 1454.8 L1664.4 1455.1 L1666.4 1455.4 L1668.4 1455.7 L1670.3 1456.0 L1672.3 1456.2 L1674.3 1456.5 L1676.3 1456.8 L1678.3 1457.0 L1680.3 1457.3 L1682.3 1457.5 L1684.2 1457.7 L1686.2 1458.0 L1688.2 1458.2 L1690.2 1458.4 L1692.2 1458.6 L1694.2 1458.9 L1696.2 1459.1 L1698.2 1459.3 L1700.2 1459.5 L1702.1 1459.7 L1704.1 1459.9 L1706.1 1460.1 L1708.1 1460.3 L1710.1 1460.5 L1712.1 1460.6 L1714.1 1460.8 L1716.1 1461.0 L1718.1 1461.2 L1720.1 1461.4 L1722.1 1461.5 L1724.0 1461.7 L1726.0 1461.9 L1728.0 1462.0 L1730.0 1462.2 L1732.0 1462.3 L1734.0 1462.5 L1736.0 1462.6 L1738.0 1462.8 L1740.0 1462.9 L1742.0 1463.0 L1744.0 1463.1 L1746.0 1463.3 L1748.0 1463.4 L1750.0 1463.5 L1752.0 1463.6 L1754.0 1463.7 L1756.0 1463.8 L1758.0 1463.9 L1760.0 1464.0 L1762.0 1464.1 L1764.0 1464.1 L1766.0 1464.2 L1768.0 1464.3 L1770.0 1464.3 L1772.0 1464.4 L1774.0 1464.5 L1776.0 1464.5 L1778.0 1464.6 L1780.0 1464.7 L1782.0 1464.7 L1784.0 1464.8 L1786.0 1464.9 L1788.0 1465.0 L1790.0 1465.1 L1792.0 1465.2 L1794.0 1465.4 L1796.0 1465.5 L1798.0 1465.7 L1800.0 1465.8 L1802.0 1466.0 L1803.9 1466.2 L1805.9 1466.5 L1807.9 1466.7 L1809.9 1467.0 L1811.8 1467.3 L1813.8 1467.6 L1815.7 1467.9 L1817.7 1468.3 L1819.6 1468.7 L1821.6 1469.1 L1823.5 1469.5 L1825.5 1470.0 L1827.4 1470.4 L1829.3 1470.9 L1831.3 1471.3 L1833.2 1471.8 L1835.2 1472.2 L1837.1 1472.6 L1839.1 1473.0 L1841.0 1473.3 L1843.0 1473.6 L1844.9 1473.9 L1846.9 1474.2 L1848.9 1474.4 L1850.9 1474.5 L1852.9 1474.7 L1854.9 1474.8 L1856.8 1474.9 L1858.8 1475.0 L1860.8 1475.1 L1862.8 1475.2 L1864.8 1475.3 L1866.8 1475.3 L1868.8 1475.4 L1870.8 1475.4 L1872.8 1475.5 L1874.8 1475.5 L1876.8 1475.6 L1878.8 1475.6 L1880.8 1475.7 L1882.8 1475.7 L1884.9 1475.7 L1886.9 1475.8 L1888.9 1475.8 L1890.9 1475.8 L1892.9 1475.9 L1894.9 1475.9 L1896.9 1475.9 L1898.9 1476.0 L1900.9 1476.0 L1902.9 1476.0 L1904.9 1476.0 L1906.9 1476.0 L1908.9 1476.1 L1910.9 1476.1 L1912.9 1476.1 L1914.9 1476.1 L1916.9 1476.1 L1918.9 1476.1 L1920.9 1476.1 L1922.9 1476.1 L1924.9 1476.2 L1926.9 1476.2 L1928.9 1476.2 L1930.9 1476.2 L1932.9 1476.2 L1934.9 1476.2 L1936.9 1476.2 L1938.9 1476.2 L1940.9 1476.2 L1942.9 1476.2 L1944.9 1476.2 L1946.9 1476.2 L1948.9 1476.2 L1950.9 1476.2 L1952.9 1476.1 L1954.9 1476.1 L1956.9 1476.1 L1958.9 1476.1 L1960.9 1476.1 L1962.9 1476.1 L1964.9 1476.1 L1966.9 1476.1 L1968.9 1476.1 L1970.9 1476.1 L1972.9 1476.1 L1974.9 1476.1 L1976.9 1476.0 L1978.9 1476.0 L1980.9 1476.0 L1982.9 1476.0 L1984.9 1476.0 L1986.9 1476.0 L1988.9 1476.0 L1990.9 1476.0 L1993.0 1476.0 L1995.0 1476.0 L1997.0 1475.9 L1999.0 1475.9 L2001.0 1475.9 L2003.0 1475.9 L2005.0 1475.9 L2007.0 1475.9 L2009.0 1475.9 L2011.0 1475.9 L2013.0 1475.9 L2015.0 1475.9 L2017.0 1475.9 L2019.0 1475.9 L2021.0 1475.9 L2023.0 1475.9 L2025.0 1475.9 L2027.0 1475.9 L2029.0 1475.9 L2031.0 1475.9 L2033.0 1475.9 L2035.0 1475.9 L2037.0 1475.9 L2039.0 1475.9 L2041.0 1475.9 L2043.0 1475.9 L2045.0 1475.9 L2047.0 1475.9 L2049.0 1475.9 L2051.0 1475.9 L2053.0 1476.0 L2055.0 1476.0 L2057.0 1476.0 L2059.0 1476.0 L2061.0 1476.0 L2063.0 1476.0 L2065.0 1476.1 L2067.0 1476.1 L2069.0 1476.1 L2071.0 1476.1 L2073.0 1476.2 L2075.0 1476.2"/>
<path stroke="#ff0000" stroke-width="10.1" d="M361.3 919.5 L362.3 921.4 L363.5 923.1 L364.8 924.6 L366.3 925.9 L367.9 927.1 L369.7 928.1 L371.5 928.9 L373.4 929.6 L375.3 930.1 L377.3 930.4 L379.4 930.6 L381.4 930.6 L383.4 930.5 L385.3 930.2 L387.3 929.8 L389.2 929.3 L391.0 928.7 L392.9 927.9 L394.6 927.0 L396.4 926.0 L398.1 924.9 L399.7 923.7 L401.3 922.4 L402.8 921.0 L404.3 919.5 L405.7 918.0 L407.1 916.4 L408.4 914.8 L409.7 913.2 L411.0 911.6 L412.3 910.1 L413.7 908.7 L415.1 907.4 L416.5 906.2 L418.0 905.2 L419.6 904.3 L421.3 903.7 L423.1 903.3 L425.0 903.2 L427.1 903.2 L429.1 903.4 L431.3 903.7 L433.4 904.1 L435.6 904.6 L437.7 905.1 L439.9 905.5 L441.9 905.9 L443.9 906.2 L445.8 906.3 L447.7 906.4 L449.5 906.3 L451.2 906.1 L452.9 905.8 L454.5 905.3 L456.1 904.7 L457.8 904.0 L459.4 903.2 L461.0 902.2 L462.6 901.0 L464.2 899.8 L465.9 898.3 L467.5 896.8 L469.2 895.2 L471.0 893.5 L472.7 891.8 L474.4 890.1 L476.2 888.5 L477.9 886.9 L479.6 885.4 L481.4 884.0 L483.1 882.8 L484.8 881.7 L486.5 880.9 L488.2 880.3 L489.8 879.9 L491.5 879.7 L493.1 879.7 L494.7 879.9 L496.3 880.3 L497.8 880.8 L499.3 881.4 L500.8 882.3 L502.3 883.2 L503.7 884.3 L505.1 885.5 L506.5 886.8 L507.9 888.1 L509.2 889.6 L510.5 891.2 L511.7 892.8 L513.0 894.4 L514.1 896.2 L515.3 897.9 L516.4 899.7 L517.5 901.5 L518.5 903.3 L519.5 905.1 L520.5 906.9 L521.5 908.8 L522.4 910.6 L523.3 912.4 L524.1 914.3 L525.0 916.2 L525.8 918.0 L526.6 919.9 L527.3 921.7 L528.1 923.6 L528.8 925.5 L529.5 927.4 L530.2 929.2 L530.9 931.1 L531.6 933.0 L532.3 934.9 L533.0 936.7 L533.7 938.6 L534.4 940.5 L535.0 942.4 L535.7 944.2 L536.4 946.1 L537.1 948.0 L537.8 949.8 L538.5 951.7 L539.2 953.5 L539.9 955.4 L540.7 957.2 L541.4 959.1 L542.2 960.9 L543.0 962.7 L543.8 964.5 L544.7 966.3 L545.6 968.1 L546.5 969.9 L547.4 971.7 L548.4 973.5 L549.3 975.2 L550.4 977.0 L551.4 978.7 L552.5 980.4 L553.7 982.1 L554.9 983.8 L556.1 985.5 L557.4 987.2 L558.7 988.8 L560.1 990.4 L561.5 991.9 L562.9 993.2 L564.4 994.3 L565.8 995.0 L567.3 995.4 L568.8 995.4 L570.3 994.9 L571.7 994.0 L573.1 992.9 L574.5 991.5 L575.9 990.0 L577.2 988.4 L578.4 986.8 L579.6 985.1 L580.7 983.4 L581.7 981.7 L582.8 980.0 L583.8 978.2 L584.7 976.3 L585.7 974.5 L586.6 972.7 L587.4 970.8 L588.3 968.9 L589.1 967.1 L590.0 965.2 L590.8 963.3 L591.6 961.5 L592.3 959.6 L593.1 957.7 L593.9 955.8 L594.6 953.9 L595.3 952.1 L596.1 950.2 L596.8 948.3 L597.5 946.4 L598.2 944.5 L598.9 942.6 L599.6 940.8 L600.2 938.9 L600.9 937.0 L601.5 935.1 L602.2 933.2 L602.8 931.3 L603.5 929.4 L604.1 927.5 L604.8 925.6 L605.4 923.7 L606.0 921.8 L606.6 919.9 L607.3 918.0 L607.9 916.1 L608.5 914.2 L609.1 912.3 L609.7 910.4 L610.3 908.5 L610.9 906.6 L611.5 904.7 L612.1 902.8 L612.7 900.9 L613.3 898.9 L613.9 897.0 L614.5 895.1 L615.1 893.2 L615.6 891.3 L616.2 889.4 L616.8 887.5 L617.4 885.6 L617.9 883.6 L618.5 881.7 L619.1 879.8 L619.6 877.9 L620.2 876.0 L620.7 874.0 L621.3 872.1 L621.8 870.2 L622.4 868.3 L622.9 866.4 L623.5 864.4 L624.0 862.5 L624.5 860.6 L625.1 858.7 L625.6 856.7 L626.1 854.8 L626.6 852.9 L627.2 850.9 L627.7 849.0 L628.2 847.1 L628.7 845.2 L629.3 843.2 L629.8 841.3 L630.3 839.4 L630.8 837.4 L631.3 835.5 L631.8 833.6 L632.3 831.6 L632.8 829.7 L633.3 827.8 L633.8 825.8 L634.3 823.9 L634.8 821.9 L635.3 820.0 L635.8 818.1 L636.3 816.1 L636.7 814.2 L637.2 812.2 L637.7 810.3 L638.2 808.4 L638.7 806.4 L639.1 804.5 L639.6 802.5 L640.1 800.6 L640.6 798.6 L641.0 796.7 L641.5 794.8 L642.0 792.8 L642.4 790.9 L642.9 788.9 L643.4 787.0 L643.8 785.0 L644.3 783.1 L644.7 781.1 L645.2 779.2 L645.7 777.2 L646.1 775.3 L646.6 773.3 L647.0 771.4 L647.5 769.4 L647.9 767.5 L648.4 765.5 L648.8 763.6 L649.3 761.6 L649.7 759.7 L650.2 757.7 L650.6 755.8 L651.1 753.8 L651.5 751.9 L651.9 749.9 L652.4 748.0 L652.8 746.0 L653.3 744.1 L653.7 742.1 L654.1 740.1 L654.6 738.2 L655.0 736.2 L655.4 734.3 L655.9 732.3 L656.3 730.4 L656.7 728.4 L657.2 726.5 L657.6 724.5 L658.0 722.5 L658.5 720.6 L658.9 718.6 L659.3 716.7 L659.8 714.7 L660.2 712.8 L660.6 710.8 L661.0 708.8 L661.5 706.9 L661.9 704.9 L662.3 703.0 L662.7 701.0 L663.2 699.1 L663.6 697.1 L664.0 695.1 L664.5 693.2 L664.9 691.2 L665.3 689.3 L665.7 687.3 L666.2 685.4 L666.6 683.4 L667.0 681.4 L667.4 679.5 L667.9 677.5 L668.3 675.6 L668.7 673.6 L669.1 671.7 L669.6 669.7 L670.0 667.7 L670.4 665.8 L670.8 663.8 L671.3 661.9 L671.7 659.9 L672.1 658.0 L672.6 656.0 L673.0 654.0 L673.4 652.1 L673.8 650.1 L674.3 648.2 L674.7 646.2 L675.1 644.3 L675.6 642.3 L676.0 640.3 L676.4 638.4 L676.9 636.4 L677.3 634.5 L677.7 632.5 L678.2 630.6 L678.6 628.6 L679.0 626.7 L679.5 624.7 L679.9 622.8 L680.4 620.8 L680.8 618.8 L681.2 616.9 L681.7 614.9 L682.1 613.0 L682.6 611.0 L683.0 609.1 L683.5 607.1 L683.9 605.2 L684.4 603.2 L684.8 601.3 L685.2 599.3 L685.7 597.4 L686.2 595.4 L686.6 593.5 L687.1 591.5 L687.5 589.6 L688.0 587.6 L688.4 585.7 L688.9 583.7 L689.4 581.8 L689.8 579.8 L690.3 577.9 L690.7 575.9 L691.2 574.0 L691.7 572.1 L692.2 570.1 L692.6 568.2 L693.1 566.2 L693.6 564.3 L694.1 562.3 L694.5 560.4 L695.0 558.5 L695.5 556.5 L696.0 554.6 L696.5 552.6 L696.9 550.7 L697.4 548.8 L697.9 546.8 L698.4 544.9 L698.9 542.9 L699.4 541.0 L699.9 539.1 L700.4 537.1 L700.9 535.2 L701.4 533.3 L701.8 531.3 L702.3 529.4 L702.8 527.4 L703.3 525.5 L703.8 523.6 L704.3 521.6 L704.8 519.7 L705.3 517.8 L705.8 515.8 L706.3 513.9 L706.8 512.0 L707.3 510.0 L707.8 508.1 L708.3 506.2 L708.8 504.2 L709.3 502.3 L709.8 500.4 L710.3 498.5 L710.8 496.5 L711.4 494.6 L711.9 492.7 L712.4 490.8 L713.0 488.8 L713.6 486.9 L714.2 485.0 L714.8 483.1 L715.4 481.1 L716.0 479.2 L716.7 477.3 L717.4 475.4 L718.1 473.5 L718.8 471.6 L719.5 469.7 L720.3 467.8 L721.1 465.9 L721.9 464.0 L722.8 462.2 L723.8 460.4 L724.8 458.7 L725.9 457.0 L727.1 455.4 L728.3 453.9 L729.7 452.4 L731.2 451.1 L732.8 449.9 L734.6 448.8 L736.4 447.8 L738.3 447.0 L740.2 446.5 L742.1 446.2 L744.0 446.1 L745.7 446.4 L747.3 447.1 L748.8 448.1 L750.1 449.4 L751.4 450.9 L752.5 452.5 L753.6 454.2 L754.6 455.9 L755.6 457.6 L756.6 459.4 L757.5 461.1 L758.4 462.9 L759.2 464.7 L760.0 466.6 L760.8 468.4 L761.5 470.2 L762.3 472.1 L762.9 474.0 L763.6 475.9 L764.3 477.8 L764.9 479.7 L765.5 481.6 L766.1 483.5 L766.6 485.5 L767.2 487.4 L767.7 489.3 L768.3 491.3 L768.8 493.2 L769.3 495.2 L769.8 497.1 L770.4 499.1 L770.9 501.0 L771.4 502.9 L771.9 504.9 L772.4 506.8 L772.9 508.8 L773.4 510.7 L773.9 512.7 L774.4 514.6 L774.8 516.6 L775.3 518.5 L775.8 520.5 L776.3 522.4 L776.8 524.4 L777.2 526.3 L777.7 528.3 L778.2 530.3 L778.6 532.2 L779.1 534.2 L779.6 536.1 L780.0 538.1 L780.5 540.0 L780.9 542.0 L781.4 543.9 L781.8 545.9 L782.2 547.8 L782.7 549.8 L783.1 551.8 L783.5 553.7 L784.0 555.7 L784.4 557.6 L784.8 559.6 L785.2 561.5 L785.7 563.5 L786.1 565.5 L786.5 567.4 L786.9 569.4 L787.3 571.3 L787.7 573.3 L788.1 575.3 L788.5 577.2 L788.9 579.2 L789.3 581.1 L789.7 583.1 L790.1 585.1 L790.5 587.0 L790.9 589.0 L791.2 591.0 L791.6 592.9 L792.0 594.9 L792.4 596.8 L792.8 598.8 L793.1 600.8 L793.5 602.7 L793.9 604.7 L794.2 606.7 L794.6 608.6 L795.0 610.6 L795.3 612.6 L795.7 614.5 L796.0 616.5 L796.4 618.5 L796.7 620.4 L797.1 622.4 L797.4 624.4 L797.8 626.3 L798.1 628.3 L798.5 630.3 L798.8 632.3 L799.1 634.2 L799.5 636.2 L799.8 638.2 L800.1 640.1 L800.5 642.1 L800.8 644.1 L801.1 646.1 L801.5 648.0 L801.8 650.0 L802.1 652.0 L802.4 653.9 L802.7 655.9 L803.1 657.9 L803.4 659.9 L803.7 661.8 L804.0 663.8 L804.3 665.8 L804.6 667.8 L804.9 669.7 L805.2 671.7 L805.5 673.7 L805.8 675.7 L806.1 677.7 L806.4 679.6 L806.7 681.6 L807.0 683.6 L807.3 685.6 L807.6 687.5 L807.9 689.5 L808.2 691.5 L808.5 693.5 L808.8 695.5 L809.1 697.4 L809.4 699.4 L809.6 701.4 L809.9 703.4 L810.2 705.4 L810.5 707.4 L810.8 709.3 L811.1 711.3 L811.4 713.3 L811.6 715.3 L811.9 717.3 L812.2 719.2 L812.5 721.2 L812.7 723.2 L813.0 725.2 L813.3 727.2 L813.6 729.2 L813.8 731.1 L814.1 733.1 L814.4 735.1 L814.7 737.1 L814.9 739.1 L815.2 741.1 L815.5 743.0 L815.8 745.0 L816.0 747.0 L816.3 749.0 L816.6 751.0 L816.8 753.0 L817.1 755.0 L817.4 756.9 L817.7 758.9 L817.9 760.9 L818.2 762.9 L818.5 764.9 L818.7 766.9 L819.0 768.8 L819.3 770.8 L819.6 772.8 L819.8 774.8 L820.1 776.8 L820.4 778.8 L820.6 780.8 L820.9 782.7 L821.2 784.7 L821.5 786.7 L821.7 788.7 L822.0 790.7 L822.3 792.7 L822.6 794.6 L822.8 796.6 L823.1 798.6 L823.4 800.6 L823.7 802.6 L823.9 804.6 L824.2 806.5 L824.5 808.5 L824.8 810.5 L825.1 812.5 L825.3 814.5 L825.6 816.5 L825.9 818.4 L826.2 820.4 L826.5 822.4 L826.8 824.4 L827.0 826.4 L827.3 828.4 L827.6 830.3 L827.9 832.3 L828.2 834.3 L828.5 836.3 L828.8 838.3 L829.1 840.2 L829.4 842.2 L829.7 844.2 L830.0 846.2 L830.3 848.2 L830.6 850.1 L830.9 852.1 L831.2 854.1 L831.5 856.1 L831.8 858.0 L832.1 860.0 L832.4 862.0 L832.7 864.0 L833.1 866.0 L833.4 867.9 L833.7 869.9 L834.0 871.9 L834.3 873.9 L834.7 875.8 L835.0 877.8 L835.3 879.8 L835.6 881.8 L836.0 883.7 L836.3 885.7 L836.6 887.7 L837.0 889.6 L837.3 891.6 L837.7 893.6 L838.0 895.6 L838.3 897.5 L838.7 899.5 L839.0 901.5 L839.4 903.4 L839.8 905.4 L840.1 907.4 L840.5 909.3 L840.8 911.3 L841.2 913.3 L841.6 915.2 L842.0 917.2 L842.3 919.2 L842.7 921.1 L843.1 923.1 L843.5 925.0 L843.9 927.0 L844.3 929.0 L844.6 930.9 L845.0 932.9 L845.4 934.8 L845.9 936.8 L846.3 938.8 L846.7 940.7 L847.1 942.7 L847.5 944.6 L847.9 946.6 L848.3 948.5 L848.8 950.5 L849.2 952.5 L849.6 954.4 L850.1 956.4 L850.5 958.3 L851.0 960.3 L851.4 962.2 L851.9 964.2 L852.3 966.1 L852.8 968.1 L853.3 970.0 L853.7 971.9 L854.2 973.9 L854.7 975.8 L855.2 977.8 L855.7 979.7 L856.2 981.7 L856.7 983.6 L857.2 985.5 L857.7 987.5 L858.2 989.4 L858.7 991.4 L859.2 993.3 L859.7 995.2 L860.3 997.2 L860.8 999.1 L861.3 1001.0 L861.9 1003.0 L862.4 1004.9 L863.0 1006.8 L863.5 1008.8 L864.1 1010.7 L864.7 1012.6 L865.2 1014.6 L865.8 1016.5 L866.4 1018.4 L867.0 1020.3 L867.6 1022.3 L868.2 1024.2 L868.8 1026.1 L869.4 1028.0 L870.0 1029.9 L870.6 1031.9 L871.2 1033.8 L871.9 1035.7 L872.5 1037.6 L873.2 1039.5 L873.8 1041.4 L874.5 1043.3 L875.1 1045.3 L875.8 1047.2 L876.5 1049.1 L877.2 1051.0 L877.9 1052.8 L878.6 1054.7 L879.4 1056.6 L880.1 1058.4 L881.0 1060.2 L881.8 1061.9 L882.7 1063.6 L883.7 1065.3 L884.7 1066.9 L885.7 1068.5 L886.8 1070.1 L888.0 1071.5 L889.2 1072.9 L890.5 1074.3 L891.9 1075.6 L893.4 1076.8 L894.9 1077.9 L896.5 1078.9 L898.2 1079.9 L900.1 1080.8 L902.0 1081.6 L904.0 1082.3 L906.1 1082.9 L908.2 1083.4 L910.4 1083.9 L912.7 1084.4 L914.9 1085.0 L917.0 1085.6 L919.1 1086.4 L921.1 1087.3 L923.0 1088.2 L924.8 1089.3 L926.6 1090.2 L928.3 1091.0 L930.1 1091.6 L931.8 1092.0 L933.6 1092.2 L935.3 1092.1 L937.1 1091.9 L938.9 1091.6 L940.6 1091.1 L942.4 1090.5 L944.2 1089.8 L945.9 1089.1 L947.7 1088.3 L949.4 1087.5 L951.2 1086.6 L952.9 1085.7 L954.7 1084.8 L956.4 1083.8 L958.1 1082.8 L959.8 1081.8 L961.5 1080.8 L963.2 1079.7 L964.9 1078.6 L966.6 1077.5 L968.3 1076.3 L970.0 1075.2 L971.6 1074.0 L973.3 1072.8 L974.9 1071.6 L976.6 1070.3 L978.2 1069.1 L979.8 1067.8 L981.4 1066.6 L983.0 1065.3 L984.6 1064.0 L986.2 1062.7 L987.7 1061.4 L989.3 1060.2 L990.8 1058.9 L992.4 1057.6 L993.9 1056.3 L995.5 1055.1 L997.0 1053.8 L998.6 1052.6 L1000.2 1051.4 L1001.8 1050.3 L1003.5 1049.2 L1005.1 1048.2 L1006.8 1047.2 L1008.6 1046.2 L1010.3 1045.3 L1012.2 1044.5 L1014.0 1043.8 L1015.9 1043.0 L1017.8 1042.4 L1019.7 1041.8 L1021.6 1041.2 L1023.5 1040.7 L1025.4 1040.2 L1027.3 1039.7 L1029.2 1039.3 L1031.1 1038.9 L1032.9 1038.5 L1034.8 1038.1 L1036.6 1037.7 L1038.4 1037.2 L1040.2 1036.7 L1041.9 1036.1 L1043.7 1035.4 L1045.3 1034.7 L1047.0 1033.8 L1048.6 1032.8 L1050.2 1031.7 L1051.7 1030.4 L1053.3 1029.0 L1054.8 1027.6 L1056.2 1026.1 L1057.7 1024.5 L1059.2 1022.9 L1060.7 1021.3 L1062.2 1019.8 L1063.7 1018.2 L1065.2 1016.8 L1066.8 1015.4 L1068.4 1014.1 L1070.0 1012.9 L1071.7 1011.9 L1073.4 1010.9 L1075.1 1010.1 L1076.9 1009.3 L1078.7 1008.7 L1080.6 1008.1 L1082.4 1007.7 L1084.3 1007.3 L1086.2 1007.0 L1088.1 1006.8 L1090.0 1006.7 L1092.0 1006.7 L1093.9 1006.7 L1095.9 1006.8 L1097.8 1006.9 L1099.8 1007.1 L1101.7 1007.4 L1103.7 1007.7 L1105.6 1008.1 L1107.6 1008.5 L1109.5 1009.0 L1111.4 1009.5 L1113.3 1010.1 L1115.2 1010.7 L1117.1 1011.3 L1119.0 1011.9 L1120.8 1012.6 L1122.6 1013.4 L1124.5 1014.1 L1126.3 1014.9 L1128.1 1015.8 L1129.8 1016.7 L1131.6 1017.5 L1133.3 1018.5 L1135.1 1019.4 L1136.8 1020.4 L1138.5 1021.5 L1140.2 1022.5 L1141.9 1023.6 L1143.6 1024.7 L1145.2 1025.8 L1146.9 1027.0 L1148.5 1028.1 L1150.1 1029.3 L1151.7 1030.6 L1153.3 1031.8 L1154.8 1033.1 L1156.4 1034.4 L1157.9 1035.7 L1159.5 1037.0 L1161.0 1038.4 L1162.5 1039.7 L1163.9 1041.1 L1165.4 1042.5 L1166.9 1043.9 L1168.3 1045.4 L1169.7 1046.8 L1171.1 1048.3 L1172.5 1049.8 L1173.9 1051.3 L1175.3 1052.8 L1176.6 1054.3 L1178.0 1055.8 L1179.3 1057.3 L1180.6 1058.9 L1181.9 1060.4 L1183.2 1062.0 L1184.4 1063.5 L1185.7 1065.1 L1186.9 1066.7 L1188.1 1068.3 L1189.4 1069.9 L1190.5 1071.5 L1191.7 1073.1 L1192.9 1074.7 L1194.1 1076.3 L1195.2 1078.0 L1196.3 1079.6 L1197.5 1081.2 L1198.6 1082.9 L1199.7 1084.5 L1200.8 1086.2 L1201.9 1087.8 L1202.9 1089.5 L1204.0 1091.2 L1205.1 1092.9 L1206.1 1094.5 L1207.1 1096.2 L1208.2 1097.9 L1209.2 1099.6 L1210.2 1101.3 L1211.2 1103.0 L1212.2 1104.8 L1213.2 1106.5 L1214.2 1108.2 L1215.1 1109.9 L1216.1 1111.7 L1217.1 1113.4 L1218.0 1115.1 L1219.0 1116.9 L1220.0 1118.6 L1220.9 1120.4 L1221.8 1122.1 L1222.8 1123.9 L1223.7 1125.6 L1224.6 1127.4 L1225.6 1129.1 L1226.5 1130.9 L1227.4 1132.7 L1228.3 1134.5 L1229.2 1136.2 L1230.2 1138.0 L1231.1 1139.8 L1232.0 1141.6 L1232.9 1143.3 L1233.8 1145.1 L1234.7 1146.9 L1235.6 1148.7 L1236.5 1150.5 L1237.5 1152.3 L1238.4 1154.1 L1239.3 1155.9 L1240.2 1157.7 L1241.1 1159.5 L1242.0 1161.3 L1242.9 1163.1 L1243.8 1164.9 L1244.7 1166.7 L1245.6 1168.5 L1246.5 1170.3 L1247.3 1172.1 L1248.2 1173.9 L1249.1 1175.7 L1250.0 1177.5 L1250.9 1179.3 L1251.8 1181.1 L1252.7 1182.9 L1253.5 1184.7 L1254.4 1186.6 L1255.3 1188.4 L1256.2 1190.2 L1257.0 1192.0 L1257.9 1193.8 L1258.8 1195.6 L1259.6 1197.4 L1260.5 1199.3 L1261.4 1201.1 L1262.2 1202.9 L1263.1 1204.7 L1263.9 1206.5 L1264.8 1208.4 L1265.6 1210.2 L1266.5 1212.0 L1267.3 1213.8 L1268.2 1215.6 L1269.0 1217.4 L1269.8 1219.3 L1270.7 1221.1 L1271.5 1222.9 L1272.3 1224.7 L1273.2 1226.5 L1274.0 1228.4 L1274.8 1230.2 L1275.6 1232.0 L1276.4 1233.8 L1277.3 1235.6 L1278.1 1237.4 L1278.9 1239.3 L1279.7 1241.1 L1280.5 1242.9 L1281.3 1244.7 L1282.1 1246.5 L1282.9 1248.4 L1283.7 1250.2 L1284.4 1252.0 L1285.2 1253.8 L1286.0 1255.6 L1286.8 1257.5 L1287.6 1259.3 L1288.4 1261.1 L1289.1 1262.9 L1289.9 1264.8 L1290.7 1266.6 L1291.5 1268.4 L1292.2 1270.2 L1293.0 1272.1 L1293.8 1273.9 L1294.5 1275.7 L1295.3 1277.6 L1296.0 1279.4 L1296.8 1281.3 L1297.5 1283.1 L1298.3 1284.9 L1299.1 1286.8 L1299.8 1288.6 L1300.6 1290.5 L1301.3 1292.3 L1302.0 1294.2 L1302.8 1296.0 L1303.5 1297.9 L1304.3 1299.8 L1305.0 1301.6 L1305.8 1303.5 L1306.5 1305.4 L1307.2 1307.2 L1308.0 1309.1 L1308.7 1311.0 L1309.4 1312.9 L1310.2 1314.8 L1310.9 1316.7 L1311.6 1318.5 L1312.4 1320.4 L1313.1 1322.3 L1313.8 1324.2 L1314.6 1326.1 L1315.3 1328.0 L1316.1 1329.9 L1316.8 1331.8 L1317.6 1333.7 L1318.3 1335.6 L1319.1 1337.5 L1319.8 1339.4 L1320.6 1341.3 L1321.4 1343.1 L1322.2 1345.0 L1323.0 1346.9 L1323.8 1348.7 L1324.6 1350.6 L1325.4 1352.5 L1326.2 1354.3 L1327.1 1356.1 L1327.9 1358.0 L1328.8 1359.8 L1329.6 1361.6 L1330.5 1363.4 L1331.4 1365.2 L1332.3 1367.0 L1333.3 1368.8 L1334.2 1370.6 L1335.2 1372.3 L1336.1 1374.0 L1337.1 1375.8 L1338.1 1377.5 L1339.2 1379.2 L1340.2 1380.9 L1341.3 1382.6 L1342.3 1384.2 L1343.4 1385.9 L1344.5 1387.5 L1345.7 1389.1 L1346.8 1390.7 L1348.0 1392.3 L1349.2 1393.8 L1350.5 1395.4 L1351.7 1396.9 L1353.0 1398.4 L1354.3 1399.9 L1355.6 1401.4 L1356.9 1402.8 L1358.3 1404.3 L1359.7 1405.7 L1361.1 1407.1 L1362.5 1408.4 L1363.9 1409.8 L1365.4 1411.1 L1366.8 1412.5 L1368.3 1413.8 L1369.8 1415.1 L1371.4 1416.3 L1372.9 1417.6 L1374.5 1418.8 L1376.0 1420.0 L1377.6 1421.2 L1379.3 1422.4 L1380.9 1423.5 L1382.5 1424.7 L1384.2 1425.8 L1385.8 1426.9 L1387.5 1428.0 L1389.2 1429.1 L1390.9 1430.1 L1392.6 1431.1 L1394.4 1432.2 L1396.1 1433.1 L1397.9 1434.1 L1399.6 1435.1 L1401.4 1436.0 L1403.2 1436.9 L1405.0 1437.8 L1406.8 1438.7 L1408.6 1439.6 L1410.5 1440.4 L1412.3 1441.3 L1414.1 1442.1 L1416.0 1442.9 L1417.8 1443.7 L1419.7 1444.4 L1421.6 1445.2 L1423.4 1445.9 L1425.3 1446.6 L1427.2 1447.3 L1429.1 1447.9 L1431.0 1448.6 L1432.9 1449.2 L1434.8 1449.9 L1436.7 1450.5 L1438.6 1451.0 L1440.5 1451.6 L1442.5 1452.2 L1444.4 1452.7 L1446.3 1453.2 L1448.3 1453.7 L1450.2 1454.2 L1452.1 1454.7 L1454.1 1455.1 L1456.0 1455.6 L1458.0 1456.0 L1460.0 1456.4 L1461.9 1456.8 L1463.9 1457.2 L1465.8 1457.6 L1467.8 1458.0 L1469.8 1458.3 L1471.8 1458.7 L1473.7 1459.0 L1475.7 1459.3 L1477.7 1459.6 L1479.7 1459.9 L1481.7 1460.2 L1483.6 1460.4 L1485.6 1460.7 L1487.6 1461.0 L1489.6 1461.2 L1491.6 1461.4 L1493.6 1461.6 L1495.6 1461.9 L1497.6 1462.1 L1499.6 1462.2 L1501.6 1462.4 L1503.6 1462.6 L1505.6 1462.8 L1507.6 1462.9 L1509.6 1463.1 L1511.6 1463.2 L1513.6 1463.4 L1515.6 1463.5 L1517.6 1463.6 L1519.6 1463.7 L1521.6 1463.8 L1523.6 1464.0 L1525.6 1464.1 L1527.6 1464.1 L1529.6 1464.2 L1531.6 1464.3 L1533.6 1464.4 L1535.6 1464.5 L1537.6 1464.5 L1539.6 1464.6 L1541.6 1464.7 L1543.6 1464.7 L1545.6 1464.8 L1547.6 1464.8 L1549.6 1464.9 L1551.6 1464.9 L1553.6 1465.0 L1555.6 1465.0 L1557.6 1465.0 L1559.6 1465.1 L1561.6 1465.1 L1563.6 1465.1 L1565.6 1465.2 L1567.6 1465.2 L1569.6 1465.2 L1571.6 1465.3 L1573.6 1465.3 L1575.6 1465.3 L1577.6 1465.3 L1579.6 1465.3 L1581.6 1465.4 L1583.6 1465.4 L1585.6 1465.4 L1587.6 1465.4 L1589.6 1465.5 L1591.6 1465.5 L1593.6 1465.5 L1595.6 1465.5 L1597.6 1465.6 L1599.6 1465.6 L1601.5 1465.6 L1603.5 1465.7 L1605.5 1465.7 L1607.5 1465.7 L1609.5 1465.8 L1611.5 1465.8 L1613.5 1465.9 L1615.5 1465.9 L1617.5 1466.0 L1619.5 1466.0 L1621.5 1466.1 L1623.5 1466.2 L1625.5 1466.2 L1627.5 1466.3 L1629.5 1466.4 L1631.5 1466.5 L1633.5 1466.5 L1635.5 1466.6 L1637.5 1466.7 L1639.5 1466.8 L1641.5 1466.9 L1643.5 1467.0 L1645.5 1467.1 L1647.5 1467.1 L1649.5 1467.2 L1651.5 1467.3 L1653.5 1467.4 L1655.5 1467.5 L1657.5 1467.6 L1659.5 1467.7 L1661.5 1467.8 L1663.5 1467.9 L1665.5 1468.1 L1667.5 1468.2 L1669.5 1468.3 L1671.5 1468.4 L1673.5 1468.5 L1675.5 1468.6 L1677.5 1468.7 L1679.5 1468.8 L1681.5 1468.9 L1683.5 1469.0 L1685.5 1469.1 L1687.5 1469.2 L1689.5 1469.3 L1691.5 1469.4 L1693.5 1469.5 L1695.5 1469.6 L1697.5 1469.7 L1699.5 1469.8 L1701.5 1469.9 L1703.5 1470.0 L1705.5 1470.1 L1707.5 1470.2 L1709.5 1470.3 L1711.5 1470.4 L1713.5 1470.5 L1715.5 1470.6 L1717.5 1470.7 L1719.5 1470.8 L1721.5 1470.9 L1723.5 1470.9 L1725.5 1471.0 L1727.5 1471.1 L1729.5 1471.2 L1731.5 1471.3 L1733.5 1471.3 L1735.5 1471.4 L1737.5 1471.5 L1739.5 1471.6 L1741.5 1471.6 L1743.5 1471.7 L1745.4 1471.8 L1747.4 1471.8 L1749.4 1471.9 L1751.4 1472.0 L1753.4 1472.0 L1755.4 1472.1 L1757.4 1472.2 L1759.4 1472.2 L1761.4 1472.3 L1763.4 1472.3 L1765.4 1472.4 L1767.4 1472.4 L1769.4 1472.5 L1771.4 1472.6 L1773.4 1472.6 L1775.4 1472.7 L1777.4 1472.7 L1779.4 1472.8 L1781.4 1472.8 L1783.3 1472.9 L1785.3 1472.9 L1787.3 1472.9 L1789.3 1473.0 L1791.3 1473.0 L1793.3 1473.1 L1795.3 1473.1 L1797.3 1473.1 L1799.3 1473.2 L1801.3 1473.2 L1803.3 1473.3 L1805.3 1473.3 L1807.3 1473.3 L1809.3 1473.4 L1811.3 1473.4 L1813.2 1473.4 L1815.2 1473.5 L1817.2 1473.5 L1819.2 1473.5 L1821.2 1473.5 L1823.2 1473.6 L1825.2 1473.6 L1827.2 1473.6 L1829.2 1473.7 L1831.2 1473.7 L1833.2 1473.7 L1835.2 1473.7 L1837.2 1473.7 L1839.2 1473.8 L1841.2 1473.8 L1843.1 1473.8 L1845.1 1473.8 L1847.1 1473.9 L1849.1 1473.9 L1851.1 1473.9 L1853.1 1473.9 L1855.1 1473.9 L1857.1 1473.9 L1859.1 1474.0 L1861.1 1474.0 L1863.1 1474.0 L1865.1 1474.0 L1867.1 1474.0 L1869.1 1474.0 L1871.1 1474.0 L1873.0 1474.0 L1875.0 1474.1 L1877.0 1474.1 L1879.0 1474.1 L1881.0 1474.1 L1883.0 1474.1 L1885.0 1474.1 L1887.0 1474.1 L1889.0 1474.1 L1891.0 1474.1 L1893.0 1474.1 L1895.0 1474.1 L1897.0 1474.2 L1899.0 1474.2 L1901.0 1474.2 L1903.0 1474.2 L1905.0 1474.2 L1907.0 1474.2 L1908.9 1474.2 L1910.9 1474.2 L1912.9 1474.2 L1914.9 1474.2 L1916.9 1474.2 L1918.9 1474.2 L1920.9 1474.2 L1922.9 1474.2 L1924.9 1474.2 L1926.9 1474.2 L1928.9 1474.2 L1930.9 1474.2 L1932.9 1474.2 L1934.9 1474.2 L1936.9 1474.2 L1938.9 1474.2 L1940.9 1474.2 L1942.9 1474.2 L1944.9 1474.2 L1946.9 1474.3 L1948.9 1474.3 L1950.9 1474.3 L1952.9 1474.3 L1954.9 1474.3 L1956.9 1474.3 L1958.9 1474.3 L1960.9 1474.3 L1962.9 1474.3 L1964.9 1474.3 L1966.9 1474.3 L1968.9 1474.3 L1970.9 1474.3 L1972.9 1474.3 L1974.9 1474.3 L1976.9 1474.3 L1978.9 1474.3 L1980.9 1474.3 L1982.9 1474.3 L1984.9 1474.3 L1986.9 1474.3 L1988.9 1474.3 L1990.9 1474.3 L1992.9 1474.3 L1994.9 1474.3 L1996.9 1474.3 L1998.9 1474.4 L2000.9 1474.4 L2002.9 1474.4 L2004.9 1474.4 L2006.9 1474.4 L2008.9 1474.4 L2010.9 1474.4 L2012.9 1474.4 L2014.9 1474.4 L2016.9 1474.4 L2018.9 1474.4 L2020.9 1474.4 L2022.9 1474.5 L2024.9 1474.5 L2026.9 1474.5 L2028.9 1474.5 L2030.9 1474.5 L2032.9 1474.5 L2034.9 1474.5 L2036.9 1474.5 L2038.9 1474.6 L2040.9 1474.6 L2043.0 1474.6 L2045.0 1474.6 L2047.0 1474.6 L2049.0 1474.6 L2051.0 1474.7 L2053.0 1474.7 L2055.0 1474.7 L2057.0 1474.7 L2059.0 1474.7 L2061.0 1474.8 L2063.0 1474.8 L2065.1 1474.8 L2067.1 1474.8 L2069.1 1474.9 L2071.1 1474.9 L2073.1 1474.9 L2075.1 1474.9"/>
<path stroke="#0000ff" stroke-width="10.1" d="M361.3 889.5 L362.7 890.5 L364.1 891.7 L365.5 893.0 L366.9 894.5 L368.3 896.0 L369.7 897.6 L371.1 899.2 L372.5 900.8 L374.0 902.4 L375.4 903.9 L376.9 905.4 L378.5 906.8 L380.1 908.0 L381.7 909.1 L383.4 910.1 L385.1 910.9 L386.9 911.6 L388.7 912.2 L390.5 912.6 L392.4 912.9 L394.3 913.1 L396.2 913.2 L398.1 913.2 L400.0 913.0 L402.0 912.8 L403.9 912.4 L405.9 912.0 L407.9 911.5 L409.8 910.9 L411.8 910.4 L413.7 909.9 L415.7 909.5 L417.6 909.2 L419.5 909.0 L421.4 908.9 L423.2 908.9 L425.1 909.2 L426.9 909.7 L428.7 910.5 L430.5 911.4 L432.2 912.4 L434.0 913.6 L435.7 914.8 L437.5 916.1 L439.2 917.4 L440.9 918.7 L442.7 919.9 L444.4 921.1 L446.2 922.1 L448.0 923.0 L449.8 923.8 L451.6 924.5 L453.4 925.1 L455.3 925.5 L457.2 925.8 L459.1 926.0 L461.0 926.0 L463.0 925.9 L465.0 925.7 L467.0 925.3 L469.1 924.8 L471.1 924.2 L473.2 923.5 L475.3 922.8 L477.4 922.1 L479.5 921.4 L481.6 920.7 L483.6 920.1 L485.6 919.7 L487.5 919.5 L489.4 919.4 L491.3 919.5 L493.0 919.7 L494.8 920.2 L496.5 920.8 L498.1 921.5 L499.7 922.4 L501.2 923.4 L502.7 924.5 L504.2 925.7 L505.6 927.0 L506.9 928.4 L508.3 929.9 L509.6 931.5 L510.8 933.1 L512.1 934.8 L513.3 936.5 L514.4 938.3 L515.5 940.1 L516.6 941.9 L517.7 943.7 L518.8 945.5 L519.8 947.3 L520.8 949.1 L521.8 950.9 L522.7 952.6 L523.7 954.4 L524.6 956.1 L525.5 957.9 L526.4 959.6 L527.3 961.4 L528.1 963.1 L529.0 964.8 L529.8 966.6 L530.6 968.3 L531.4 970.1 L532.2 971.8 L533.0 973.6 L533.8 975.4 L534.6 977.2 L535.4 979.0 L536.2 980.8 L536.9 982.6 L537.7 984.4 L538.5 986.3 L539.3 988.2 L540.1 990.1 L540.8 992.0 L541.6 994.0 L542.4 995.9 L543.2 997.9 L544.1 999.9 L544.9 1001.8 L545.7 1003.8 L546.6 1005.7 L547.5 1007.7 L548.4 1009.6 L549.4 1011.4 L550.3 1013.3 L551.3 1015.0 L552.4 1016.8 L553.4 1018.5 L554.5 1020.1 L555.6 1021.6 L556.8 1023.1 L558.0 1024.5 L559.3 1025.8 L560.6 1027.1 L562.0 1028.2 L563.4 1029.2 L564.8 1030.1 L566.3 1030.9 L567.9 1031.5 L569.4 1031.8 L571.0 1031.8 L572.5 1031.5 L574.0 1030.9 L575.5 1029.8 L577.0 1028.4 L578.4 1026.7 L579.8 1024.9 L581.1 1022.9 L582.3 1021.0 L583.5 1019.1 L584.6 1017.2 L585.6 1015.3 L586.6 1013.5 L587.5 1011.7 L588.4 1009.8 L589.3 1008.0 L590.1 1006.2 L591.0 1004.4 L591.8 1002.6 L592.6 1000.8 L593.4 999.0 L594.2 997.2 L595.0 995.3 L595.7 993.5 L596.5 991.7 L597.3 989.8 L598.0 988.0 L598.8 986.1 L599.5 984.3 L600.2 982.4 L601.0 980.5 L601.7 978.7 L602.4 976.8 L603.1 974.9 L603.8 973.0 L604.5 971.2 L605.2 969.3 L605.9 967.4 L606.6 965.5 L607.3 963.6 L607.9 961.7 L608.6 959.9 L609.3 958.0 L609.9 956.1 L610.6 954.2 L611.3 952.3 L611.9 950.4 L612.6 948.5 L613.2 946.6 L613.9 944.7 L614.5 942.8 L615.1 940.9 L615.8 939.0 L616.4 937.1 L617.0 935.2 L617.7 933.3 L618.3 931.4 L618.9 929.5 L619.5 927.6 L620.1 925.7 L620.7 923.8 L621.3 921.9 L621.9 920.0 L622.5 918.0 L623.1 916.1 L623.7 914.2 L624.3 912.3 L624.9 910.4 L625.5 908.5 L626.0 906.6 L626.6 904.6 L627.2 902.7 L627.8 900.8 L628.3 898.9 L628.9 897.0 L629.5 895.0 L630.0 893.1 L630.6 891.2 L631.1 889.3 L631.7 887.3 L632.2 885.4 L632.8 883.5 L633.3 881.6 L633.9 879.6 L634.4 877.7 L634.9 875.8 L635.5 873.8 L636.0 871.9 L636.5 870.0 L637.1 868.0 L637.6 866.1 L638.1 864.2 L638.6 862.2 L639.1 860.3 L639.6 858.4 L640.2 856.4 L640.7 854.5 L641.2 852.6 L641.7 850.6 L642.2 848.7 L642.7 846.7 L643.2 844.8 L643.7 842.9 L644.2 840.9 L644.7 839.0 L645.2 837.0 L645.6 835.1 L646.1 833.1 L646.6 831.2 L647.1 829.3 L647.6 827.3 L648.1 825.4 L648.5 823.4 L649.0 821.5 L649.5 819.5 L650.0 817.6 L650.4 815.6 L650.9 813.7 L651.4 811.7 L651.8 809.8 L652.3 807.8 L652.8 805.9 L653.2 803.9 L653.7 802.0 L654.1 800.0 L654.6 798.1 L655.0 796.1 L655.5 794.2 L656.0 792.2 L656.4 790.3 L656.9 788.3 L657.3 786.4 L657.7 784.4 L658.2 782.5 L658.6 780.5 L659.1 778.6 L659.5 776.6 L660.0 774.7 L660.4 772.7 L660.8 770.8 L661.3 768.8 L661.7 766.9 L662.2 764.9 L662.6 763.0 L663.0 761.0 L663.5 759.0 L663.9 757.1 L664.3 755.1 L664.7 753.2 L665.2 751.2 L665.6 749.3 L666.0 747.3 L666.5 745.4 L666.9 743.4 L667.3 741.5 L667.7 739.5 L668.2 737.5 L668.6 735.6 L669.0 733.6 L669.4 731.7 L669.9 729.7 L670.3 727.8 L670.7 725.8 L671.1 723.9 L671.6 721.9 L672.0 719.9 L672.4 718.0 L672.8 716.0 L673.2 714.1 L673.7 712.1 L674.1 710.2 L674.5 708.2 L674.9 706.2 L675.4 704.3 L675.8 702.3 L676.2 700.4 L676.6 698.4 L677.0 696.5 L677.5 694.5 L677.9 692.5 L678.3 690.6 L678.7 688.6 L679.2 686.7 L679.6 684.7 L680.0 682.8 L680.4 680.8 L680.9 678.9 L681.3 676.9 L681.7 674.9 L682.1 673.0 L682.6 671.0 L683.0 669.1 L683.4 667.1 L683.9 665.2 L684.3 663.2 L684.7 661.3 L685.2 659.3 L685.6 657.3 L686.0 655.4 L686.5 653.4 L686.9 651.5 L687.3 649.5 L687.8 647.6 L688.2 645.6 L688.7 643.7 L689.1 641.7 L689.5 639.7 L690.0 637.8 L690.4 635.8 L690.9 633.9 L691.3 631.9 L691.8 630.0 L692.2 628.0 L692.7 626.1 L693.1 624.1 L693.6 622.2 L694.0 620.2 L694.5 618.3 L694.9 616.3 L695.4 614.4 L695.9 612.4 L696.3 610.4 L696.8 608.5 L697.3 606.5 L697.7 604.6 L698.2 602.6 L698.7 600.7 L699.1 598.7 L699.6 596.8 L700.1 594.8 L700.6 592.9 L701.1 590.9 L701.5 589.0 L702.0 587.0 L702.5 585.1 L703.0 583.2 L703.5 581.2 L704.0 579.3 L704.5 577.3 L705.0 575.4 L705.5 573.4 L706.0 571.5 L706.5 569.5 L707.0 567.6 L707.5 565.7 L708.0 563.7 L708.5 561.8 L709.0 559.9 L709.5 557.9 L710.0 556.0 L710.6 554.1 L711.1 552.1 L711.6 550.2 L712.1 548.3 L712.7 546.3 L713.2 544.4 L713.7 542.5 L714.3 540.6 L714.8 538.7 L715.3 536.7 L715.9 534.8 L716.4 532.9 L717.0 531.0 L717.5 529.1 L718.1 527.2 L718.6 525.3 L719.2 523.4 L719.8 521.5 L720.3 519.6 L720.9 517.7 L721.5 515.8 L722.0 513.9 L722.6 512.0 L723.2 510.1 L723.8 508.2 L724.3 506.3 L724.9 504.4 L725.5 502.5 L726.1 500.6 L726.7 498.7 L727.3 496.7 L727.9 494.8 L728.5 492.8 L729.0 490.8 L729.6 488.7 L730.2 486.7 L730.9 484.6 L731.5 482.5 L732.2 480.4 L732.9 478.4 L733.7 476.5 L734.6 474.6 L735.6 472.9 L736.7 471.2 L737.9 469.8 L739.3 468.5 L740.9 467.4 L742.5 466.4 L744.3 465.7 L746.1 465.1 L748.0 464.7 L749.9 464.5 L751.8 464.5 L753.6 464.7 L755.5 465.0 L757.2 465.6 L758.9 466.3 L760.5 467.2 L761.9 468.3 L763.2 469.6 L764.3 471.0 L765.4 472.6 L766.4 474.3 L767.3 476.0 L768.2 477.9 L769.0 479.8 L769.8 481.7 L770.5 483.6 L771.3 485.6 L772.0 487.5 L772.7 489.5 L773.4 491.4 L774.1 493.4 L774.8 495.3 L775.5 497.3 L776.1 499.2 L776.8 501.2 L777.4 503.1 L778.0 505.0 L778.7 507.0 L779.3 508.9 L779.9 510.9 L780.5 512.8 L781.1 514.7 L781.6 516.7 L782.2 518.6 L782.8 520.6 L783.3 522.5 L783.9 524.4 L784.4 526.4 L784.9 528.3 L785.5 530.2 L786.0 532.2 L786.5 534.1 L787.0 536.1 L787.5 538.0 L788.0 539.9 L788.5 541.9 L789.0 543.8 L789.5 545.8 L790.0 547.7 L790.4 549.6 L790.9 551.6 L791.4 553.5 L791.8 555.5 L792.3 557.4 L792.7 559.3 L793.2 561.3 L793.6 563.2 L794.1 565.2 L794.5 567.1 L795.0 569.0 L795.4 571.0 L795.8 572.9 L796.3 574.9 L796.7 576.8 L797.1 578.8 L797.6 580.7 L798.0 582.7 L798.4 584.6 L798.8 586.5 L799.3 588.5 L799.7 590.4 L800.1 592.4 L800.5 594.3 L801.0 596.3 L801.4 598.2 L801.8 600.2 L802.2 602.2 L802.6 604.1 L803.0 606.1 L803.4 608.0 L803.9 610.0 L804.3 611.9 L804.7 613.9 L805.1 615.8 L805.5 617.8 L805.9 619.8 L806.3 621.7 L806.7 623.7 L807.1 625.6 L807.5 627.6 L807.9 629.5 L808.3 631.5 L808.6 633.5 L809.0 635.4 L809.4 637.4 L809.8 639.4 L810.2 641.3 L810.6 643.3 L811.0 645.2 L811.3 647.2 L811.7 649.2 L812.1 651.1 L812.5 653.1 L812.8 655.1 L813.2 657.0 L813.6 659.0 L813.9 661.0 L814.3 663.0 L814.7 664.9 L815.0 666.9 L815.4 668.9 L815.7 670.8 L816.1 672.8 L816.5 674.8 L816.8 676.7 L817.2 678.7 L817.5 680.7 L817.9 682.7 L818.2 684.6 L818.6 686.6 L818.9 688.6 L819.2 690.6 L819.6 692.5 L819.9 694.5 L820.3 696.5 L820.6 698.5 L820.9 700.4 L821.3 702.4 L821.6 704.4 L821.9 706.4 L822.3 708.3 L822.6 710.3 L822.9 712.3 L823.3 714.3 L823.6 716.3 L823.9 718.2 L824.3 720.2 L824.6 722.2 L824.9 724.2 L825.2 726.2 L825.6 728.1 L825.9 730.1 L826.2 732.1 L826.5 734.1 L826.8 736.1 L827.2 738.0 L827.5 740.0 L827.8 742.0 L828.1 744.0 L828.5 746.0 L828.8 747.9 L829.1 749.9 L829.4 751.9 L829.7 753.9 L830.1 755.9 L830.4 757.8 L830.7 759.8 L831.0 761.8 L831.3 763.8 L831.7 765.8 L832.0 767.7 L832.3 769.7 L832.6 771.7 L832.9 773.7 L833.3 775.7 L833.6 777.7 L833.9 779.6 L834.2 781.6 L834.5 783.6 L834.9 785.6 L835.2 787.6 L835.5 789.5 L835.8 791.5 L836.2 793.5 L836.5 795.5 L836.8 797.4 L837.2 799.4 L837.5 801.4 L837.8 803.4 L838.1 805.4 L838.5 807.3 L838.8 809.3 L839.1 811.3 L839.5 813.3 L839.8 815.3 L840.1 817.2 L840.5 819.2 L840.8 821.2 L841.1 823.2 L841.5 825.1 L841.8 827.1 L842.2 829.1 L842.5 831.1 L842.9 833.0 L843.2 835.0 L843.6 837.0 L843.9 839.0 L844.3 840.9 L844.6 842.9 L845.0 844.9 L845.3 846.8 L845.7 848.8 L846.0 850.8 L846.4 852.8 L846.8 854.7 L847.1 856.7 L847.5 858.7 L847.9 860.6 L848.2 862.6 L848.6 864.6 L849.0 866.5 L849.3 868.5 L849.7 870.5 L850.1 872.4 L850.5 874.4 L850.9 876.4 L851.3 878.3 L851.6 880.3 L852.0 882.2 L852.4 884.2 L852.8 886.2 L853.2 888.1 L853.6 890.1 L854.0 892.0 L854.4 894.0 L854.8 896.0 L855.3 897.9 L855.7 899.9 L856.1 901.8 L856.5 903.8 L856.9 905.7 L857.3 907.7 L857.8 909.6 L858.2 911.6 L858.6 913.6 L859.1 915.5 L859.5 917.5 L859.9 919.4 L860.4 921.3 L860.8 923.3 L861.3 925.2 L861.7 927.2 L862.2 929.1 L862.7 931.1 L863.1 933.0 L863.6 935.0 L864.1 936.9 L864.5 938.8 L865.0 940.8 L865.5 942.7 L866.0 944.7 L866.5 946.6 L867.0 948.5 L867.4 950.5 L867.9 952.4 L868.4 954.3 L869.0 956.3 L869.5 958.2 L870.0 960.1 L870.5 962.1 L871.0 964.0 L871.5 965.9 L872.1 967.8 L872.6 969.8 L873.1 971.7 L873.7 973.6 L874.2 975.5 L874.8 977.5 L875.3 979.4 L875.9 981.3 L876.4 983.2 L877.0 985.1 L877.6 987.0 L878.1 989.0 L878.7 990.9 L879.3 992.8 L879.9 994.7 L880.5 996.6 L881.1 998.5 L881.7 1000.4 L882.3 1002.3 L882.9 1004.2 L883.5 1006.1 L884.1 1008.0 L884.7 1009.9 L885.4 1011.8 L886.0 1013.7 L886.6 1015.6 L887.3 1017.5 L887.9 1019.4 L888.6 1021.3 L889.2 1023.2 L889.9 1025.1 L890.6 1027.0 L891.3 1028.9 L891.9 1030.8 L892.6 1032.6 L893.3 1034.5 L894.1 1036.4 L894.8 1038.2 L895.6 1040.1 L896.3 1041.9 L897.1 1043.8 L898.0 1045.6 L898.8 1047.4 L899.7 1049.2 L900.6 1051.0 L901.5 1052.7 L902.5 1054.5 L903.5 1056.2 L904.6 1057.9 L905.7 1059.6 L906.8 1061.3 L908.0 1062.9 L909.2 1064.5 L910.5 1066.1 L911.8 1067.7 L913.2 1069.3 L914.6 1070.8 L916.1 1072.3 L917.6 1073.7 L919.2 1075.1 L920.8 1076.5 L922.4 1077.8 L924.1 1079.1 L925.8 1080.3 L927.6 1081.5 L929.3 1082.6 L931.1 1083.6 L932.9 1084.5 L934.8 1085.4 L936.6 1086.2 L938.5 1086.9 L940.3 1087.5 L942.2 1088.0 L944.1 1088.4 L946.0 1088.7 L947.9 1089.0 L949.7 1089.0 L951.6 1089.0 L953.4 1088.9 L955.3 1088.6 L957.1 1088.3 L958.9 1087.8 L960.7 1087.2 L962.5 1086.5 L964.3 1085.8 L966.0 1085.0 L967.8 1084.1 L969.5 1083.1 L971.2 1082.0 L973.0 1081.0 L974.7 1079.8 L976.4 1078.7 L978.1 1077.4 L979.8 1076.2 L981.4 1075.0 L983.1 1073.7 L984.8 1072.4 L986.4 1071.1 L988.1 1069.8 L989.7 1068.6 L991.4 1067.3 L993.0 1066.1 L994.7 1064.9 L996.3 1063.7 L997.9 1062.5 L999.5 1061.4 L1001.2 1060.3 L1002.8 1059.2 L1004.4 1058.1 L1006.1 1057.1 L1007.7 1056.1 L1009.4 1055.0 L1011.1 1054.1 L1012.7 1053.1 L1014.4 1052.1 L1016.1 1051.2 L1017.8 1050.3 L1019.6 1049.4 L1021.3 1048.6 L1023.1 1047.7 L1024.9 1046.9 L1026.7 1046.1 L1028.5 1045.3 L1030.4 1044.5 L1032.2 1043.8 L1034.1 1043.0 L1036.0 1042.2 L1037.9 1041.5 L1039.8 1040.7 L1041.6 1039.9 L1043.5 1039.1 L1045.3 1038.2 L1047.0 1037.3 L1048.8 1036.3 L1050.4 1035.3 L1052.0 1034.2 L1053.6 1033.0 L1055.1 1031.8 L1056.5 1030.5 L1057.9 1029.2 L1059.3 1027.9 L1060.7 1026.5 L1062.1 1025.2 L1063.4 1023.9 L1064.9 1022.6 L1066.3 1021.3 L1067.8 1020.1 L1069.3 1019.0 L1070.9 1017.9 L1072.5 1016.9 L1074.2 1016.0 L1076.0 1015.2 L1077.8 1014.4 L1079.7 1013.7 L1081.6 1013.1 L1083.5 1012.6 L1085.5 1012.1 L1087.5 1011.7 L1089.5 1011.4 L1091.6 1011.1 L1093.7 1010.9 L1095.8 1010.8 L1097.9 1010.7 L1100.0 1010.6 L1102.1 1010.7 L1104.2 1010.8 L1106.3 1010.9 L1108.4 1011.1 L1110.5 1011.4 L1112.5 1011.7 L1114.6 1012.0 L1116.6 1012.4 L1118.6 1012.9 L1120.6 1013.3 L1122.5 1013.9 L1124.4 1014.4 L1126.3 1015.1 L1128.2 1015.7 L1130.1 1016.4 L1131.9 1017.2 L1133.7 1017.9 L1135.5 1018.8 L1137.3 1019.6 L1139.0 1020.5 L1140.7 1021.4 L1142.4 1022.4 L1144.1 1023.4 L1145.8 1024.4 L1147.4 1025.5 L1149.1 1026.6 L1150.7 1027.7 L1152.3 1028.8 L1153.8 1030.0 L1155.4 1031.2 L1156.9 1032.4 L1158.4 1033.7 L1160.0 1035.0 L1161.4 1036.3 L1162.9 1037.6 L1164.4 1038.9 L1165.8 1040.3 L1167.2 1041.7 L1168.7 1043.1 L1170.1 1044.5 L1171.4 1046.0 L1172.8 1047.4 L1174.2 1048.9 L1175.5 1050.4 L1176.9 1051.9 L1178.2 1053.4 L1179.5 1054.9 L1180.8 1056.5 L1182.1 1058.0 L1183.4 1059.6 L1184.6 1061.1 L1185.9 1062.7 L1187.1 1064.3 L1188.4 1065.9 L1189.6 1067.4 L1190.8 1069.0 L1192.0 1070.6 L1193.2 1072.2 L1194.4 1073.9 L1195.6 1075.5 L1196.8 1077.1 L1198.0 1078.7 L1199.1 1080.4 L1200.3 1082.0 L1201.4 1083.6 L1202.5 1085.3 L1203.7 1086.9 L1204.8 1088.6 L1205.9 1090.3 L1207.0 1091.9 L1208.1 1093.6 L1209.2 1095.3 L1210.3 1097.0 L1211.3 1098.7 L1212.4 1100.4 L1213.5 1102.1 L1214.5 1103.8 L1215.6 1105.5 L1216.6 1107.2 L1217.6 1108.9 L1218.7 1110.6 L1219.7 1112.3 L1220.7 1114.1 L1221.7 1115.8 L1222.7 1117.5 L1223.7 1119.3 L1224.7 1121.0 L1225.7 1122.8 L1226.7 1124.5 L1227.6 1126.3 L1228.6 1128.0 L1229.6 1129.8 L1230.5 1131.5 L1231.5 1133.3 L1232.4 1135.0 L1233.4 1136.8 L1234.3 1138.6 L1235.3 1140.4 L1236.2 1142.1 L1237.1 1143.9 L1238.1 1145.7 L1239.0 1147.5 L1239.9 1149.3 L1240.8 1151.0 L1241.7 1152.8 L1242.6 1154.6 L1243.5 1156.4 L1244.4 1158.2 L1245.3 1160.0 L1246.2 1161.8 L1247.1 1163.6 L1248.0 1165.4 L1248.9 1167.2 L1249.8 1169.0 L1250.7 1170.8 L1251.6 1172.6 L1252.4 1174.4 L1253.3 1176.2 L1254.2 1178.0 L1255.1 1179.8 L1255.9 1181.6 L1256.8 1183.4 L1257.7 1185.3 L1258.6 1187.1 L1259.4 1188.9 L1260.3 1190.7 L1261.2 1192.5 L1262.0 1194.3 L1262.9 1196.1 L1263.7 1197.9 L1264.6 1199.7 L1265.5 1201.5 L1266.3 1203.3 L1267.2 1205.1 L1268.1 1206.9 L1268.9 1208.8 L1269.8 1210.6 L1270.7 1212.4 L1271.5 1214.2 L1272.4 1216.0 L1273.3 1217.8 L1274.1 1219.6 L1275.0 1221.4 L1275.9 1223.2 L1276.8 1225.0 L1277.6 1226.7 L1278.5 1228.5 L1279.4 1230.3 L1280.3 1232.1 L1281.1 1233.9 L1282.0 1235.7 L1282.9 1237.5 L1283.8 1239.3 L1284.7 1241.1 L1285.5 1242.8 L1286.4 1244.6 L1287.3 1246.4 L1288.2 1248.2 L1289.1 1250.0 L1290.0 1251.8 L1290.8 1253.5 L1291.7 1255.3 L1292.6 1257.1 L1293.5 1258.9 L1294.4 1260.7 L1295.2 1262.5 L1296.1 1264.3 L1297.0 1266.1 L1297.9 1267.9 L1298.7 1269.6 L1299.6 1271.4 L1300.5 1273.2 L1301.3 1275.0 L1302.2 1276.8 L1303.1 1278.6 L1303.9 1280.4 L1304.8 1282.2 L1305.7 1284.0 L1306.5 1285.9 L1307.4 1287.7 L1308.2 1289.5 L1309.1 1291.3 L1309.9 1293.1 L1310.8 1294.9 L1311.6 1296.8 L1312.5 1298.6 L1313.3 1300.4 L1314.1 1302.2 L1315.0 1304.1 L1315.8 1305.9 L1316.6 1307.8 L1317.4 1309.6 L1318.2 1311.5 L1319.1 1313.3 L1319.9 1315.2 L1320.7 1317.0 L1321.5 1318.9 L1322.3 1320.8 L1323.1 1322.6 L1323.9 1324.5 L1324.7 1326.3 L1325.5 1328.2 L1326.3 1330.1 L1327.2 1331.9 L1328.0 1333.8 L1328.8 1335.6 L1329.6 1337.5 L1330.5 1339.3 L1331.3 1341.1 L1332.2 1343.0 L1333.0 1344.8 L1333.9 1346.6 L1334.8 1348.4 L1335.7 1350.2 L1336.6 1352.0 L1337.5 1353.8 L1338.4 1355.6 L1339.3 1357.4 L1340.2 1359.2 L1341.2 1360.9 L1342.2 1362.6 L1343.1 1364.4 L1344.1 1366.1 L1345.2 1367.8 L1346.2 1369.5 L1347.2 1371.2 L1348.3 1372.8 L1349.4 1374.5 L1350.5 1376.1 L1351.6 1377.8 L1352.7 1379.4 L1353.9 1381.0 L1355.1 1382.5 L1356.3 1384.1 L1357.5 1385.6 L1358.7 1387.1 L1360.0 1388.6 L1361.3 1390.1 L1362.6 1391.6 L1363.9 1393.0 L1365.3 1394.5 L1366.7 1395.9 L1368.1 1397.3 L1369.5 1398.6 L1371.0 1400.0 L1372.4 1401.3 L1373.9 1402.6 L1375.4 1403.9 L1376.9 1405.2 L1378.5 1406.4 L1380.0 1407.7 L1381.6 1408.9 L1383.2 1410.1 L1384.8 1411.3 L1386.4 1412.5 L1388.1 1413.6 L1389.7 1414.8 L1391.4 1415.9 L1393.1 1417.0 L1394.8 1418.0 L1396.5 1419.1 L1398.2 1420.2 L1400.0 1421.2 L1401.7 1422.2 L1403.5 1423.2 L1405.2 1424.2 L1407.0 1425.1 L1408.8 1426.1 L1410.6 1427.0 L1412.4 1427.9 L1414.3 1428.8 L1416.1 1429.7 L1417.9 1430.6 L1419.8 1431.4 L1421.6 1432.2 L1423.5 1433.0 L1425.3 1433.8 L1427.2 1434.6 L1429.1 1435.4 L1431.0 1436.1 L1432.8 1436.9 L1434.7 1437.6 L1436.6 1438.3 L1438.5 1439.0 L1440.4 1439.6 L1442.3 1440.3 L1444.2 1440.9 L1446.1 1441.6 L1448.0 1442.2 L1450.0 1442.8 L1451.9 1443.4 L1453.8 1443.9 L1455.7 1444.5 L1457.6 1445.1 L1459.5 1445.6 L1461.5 1446.1 L1463.4 1446.6 L1465.3 1447.1 L1467.3 1447.6 L1469.2 1448.1 L1471.1 1448.6 L1473.1 1449.0 L1475.0 1449.5 L1476.9 1449.9 L1478.9 1450.3 L1480.8 1450.7 L1482.8 1451.1 L1484.7 1451.5 L1486.7 1451.9 L1488.6 1452.3 L1490.6 1452.7 L1492.5 1453.1 L1494.5 1453.4 L1496.4 1453.8 L1498.4 1454.1 L1500.3 1454.5 L1502.3 1454.8 L1504.3 1455.1 L1506.2 1455.5 L1508.2 1455.8 L1510.2 1456.1 L1512.1 1456.4 L1514.1 1456.7 L1516.1 1457.0 L1518.0 1457.3 L1520.0 1457.6 L1522.0 1457.9 L1523.9 1458.2 L1525.9 1458.5 L1527.9 1458.8 L1529.8 1459.1 L1531.8 1459.4 L1533.8 1459.6 L1535.8 1459.9 L1537.7 1460.2 L1539.7 1460.5 L1541.7 1460.7 L1543.7 1461.0 L1545.6 1461.3 L1547.6 1461.5 L1549.6 1461.8 L1551.6 1462.1 L1553.6 1462.3 L1555.5 1462.6 L1557.5 1462.8 L1559.5 1463.1 L1561.5 1463.3 L1563.5 1463.6 L1565.5 1463.8 L1567.4 1464.1 L1569.4 1464.3 L1571.4 1464.6 L1573.4 1464.8 L1575.4 1465.0 L1577.4 1465.3 L1579.3 1465.5 L1581.3 1465.7 L1583.3 1466.0 L1585.3 1466.2 L1587.3 1466.4 L1589.3 1466.6 L1591.3 1466.9 L1593.3 1467.1 L1595.3 1467.3 L1597.2 1467.5 L1599.2 1467.7 L1601.2 1467.9 L1603.2 1468.1 L1605.2 1468.3 L1607.2 1468.5 L1609.2 1468.7 L1611.2 1468.9 L1613.2 1469.1 L1615.2 1469.3 L1617.2 1469.5 L1619.2 1469.7 L1621.1 1469.9 L1623.1 1470.1 L1625.1 1470.3 L1627.1 1470.4 L1629.1 1470.6 L1631.1 1470.8 L1633.1 1471.0 L1635.1 1471.2 L1637.1 1471.3 L1639.1 1471.5 L1641.1 1471.7 L1643.1 1471.8 L1645.1 1472.0 L1647.1 1472.1 L1649.1 1472.3 L1651.1 1472.5 L1653.1 1472.6 L1655.1 1472.8 L1657.1 1472.9 L1659.1 1473.1 L1661.1 1473.2 L1663.1 1473.3 L1665.1 1473.5 L1667.1 1473.6 L1669.1 1473.8 L1671.1 1473.9 L1673.1 1474.0 L1675.1 1474.2 L1677.1 1474.3 L1679.1 1474.4 L1681.1 1474.5 L1683.1 1474.7 L1685.1 1474.8 L1687.1 1474.9 L1689.1 1475.0 L1691.1 1475.1 L1693.1 1475.2 L1695.1 1475.3 L1697.1 1475.4 L1699.1 1475.6 L1701.1 1475.7 L1703.1 1475.8 L1705.1 1475.8 L1707.1 1475.9 L1709.1 1476.0 L1711.1 1476.1 L1713.1 1476.2 L1715.1 1476.3 L1717.1 1476.4 L1719.1 1476.5 L1721.0 1476.6 L1723.0 1476.6 L1725.0 1476.7 L1727.0 1476.8 L1729.0 1476.9 L1731.0 1476.9 L1733.0 1477.0 L1735.0 1477.1 L1737.0 1477.1 L1739.0 1477.2 L1741.0 1477.2 L1743.0 1477.3 L1745.0 1477.4 L1747.0 1477.4 L1749.0 1477.5 L1751.0 1477.5 L1753.0 1477.6 L1755.0 1477.6 L1757.0 1477.7 L1759.0 1477.7 L1761.0 1477.8 L1763.0 1477.8 L1765.0 1477.8 L1767.0 1477.9 L1769.0 1477.9 L1771.0 1477.9 L1773.0 1478.0 L1775.0 1478.0 L1777.0 1478.0 L1779.0 1478.1 L1781.0 1478.1 L1783.0 1478.1 L1785.0 1478.2 L1787.0 1478.2 L1789.0 1478.2 L1791.0 1478.2 L1793.0 1478.2 L1795.0 1478.3 L1797.0 1478.3 L1799.0 1478.3 L1801.0 1478.3 L1803.0 1478.3 L1805.0 1478.3 L1807.0 1478.4 L1809.0 1478.4 L1811.0 1478.4 L1813.0 1478.4 L1815.0 1478.4 L1817.0 1478.4 L1819.0 1478.4 L1821.0 1478.4 L1823.0 1478.4 L1825.0 1478.4 L1827.0 1478.4 L1829.0 1478.4 L1831.0 1478.4 L1833.0 1478.4 L1834.9 1478.4 L1836.9 1478.4 L1838.9 1478.4 L1840.9 1478.4 L1842.9 1478.4 L1844.9 1478.4 L1846.9 1478.4 L1848.9 1478.4 L1850.9 1478.4 L1852.9 1478.4 L1854.9 1478.4 L1856.9 1478.4 L1858.9 1478.3 L1860.9 1478.3 L1862.9 1478.3 L1864.9 1478.3 L1866.9 1478.3 L1868.9 1478.3 L1870.9 1478.3 L1872.9 1478.3 L1874.9 1478.3 L1876.9 1478.2 L1878.9 1478.2 L1880.9 1478.2 L1882.9 1478.2 L1884.9 1478.2 L1886.9 1478.2 L1888.9 1478.2 L1890.9 1478.1 L1892.9 1478.1 L1894.9 1478.1 L1896.9 1478.1 L1898.9 1478.1 L1900.9 1478.1 L1902.9 1478.0 L1904.9 1478.0 L1906.9 1478.0 L1908.9 1478.0 L1910.9 1478.0 L1912.9 1478.0 L1914.9 1477.9 L1916.9 1477.9 L1918.9 1477.9 L1920.9 1477.9 L1922.9 1477.9 L1924.9 1477.9 L1926.9 1477.9 L1928.9 1477.8 L1930.9 1477.8 L1932.9 1477.8 L1934.9 1477.8 L1936.9 1477.8 L1938.9 1477.8 L1940.9 1477.8 L1942.9 1477.7 L1944.9 1477.7 L1946.9 1477.7 L1948.9 1477.7 L1950.9 1477.7 L1952.9 1477.7 L1954.9 1477.7 L1956.9 1477.7 L1958.9 1477.7 L1960.9 1477.6 L1962.9 1477.6 L1964.9 1477.6 L1966.9 1477.6 L1968.9 1477.6 L1970.9 1477.6 L1972.9 1477.6 L1974.9 1477.6 L1976.9 1477.6 L1978.9 1477.6 L1980.9 1477.6 L1982.9 1477.6 L1984.9 1477.6 L1986.9 1477.6 L1988.9 1477.6 L1990.9 1477.6 L1992.9 1477.6 L1994.9 1477.6 L1996.9 1477.6 L1998.9 1477.6 L2000.9 1477.6 L2002.9 1477.7 L2004.9 1477.7 L2006.9 1477.7 L2008.9 1477.7 L2010.9 1477.7 L2012.9 1477.7 L2014.9 1477.7 L2016.9 1477.7 L2018.9 1477.8 L2020.9 1477.8 L2022.9 1477.8 L2024.9 1477.8 L2026.9 1477.9 L2028.9 1477.9 L2030.9 1477.9 L2032.9 1477.9 L2034.9 1478.0 L2036.9 1478.0 L2038.9 1478.0 L2040.9 1478.1 L2042.9 1478.1 L2044.9 1478.1 L2046.9 1478.2 L2048.9 1478.2 L2051.0 1478.2 L2053.0 1478.3 L2055.0 1478.3 L2057.0 1478.4 L2059.0 1478.4 L2061.0 1478.5 L2063.0 1478.5 L2065.0 1478.6 L2067.0 1478.6 L2069.0 1478.7 L2071.0 1478.7 L2073.0 1478.8 L2075.0 1478.9"/>
</g>
<g>
<rect x="1418.30" y="154.90" width="233.20" height="7.90" fill="#000000"/>
<rect x="1418.30" y="277.90" width="233.20" height="10.40" fill="#ff0000"/>
<rect x="1418.30" y="401.10" width="233.20" height="10.30" fill="#0000ff"/>
</g>
<g class="lab">
<text x="1675" y="193.7">pH 4.0</text>
<text x="1675" y="316.8">pH 7.4</text>
<text x="1675" y="440">pH 10.0</text>
</g>
<g class="tick">
<text transform="translate(0 1498.6) scale(0.91 1)" x="231.6 278.8 304.0" y="0">0.0</text>
<text transform="translate(0 1146.1) scale(0.91 1)" x="231.6 278.8 304.0" y="0">0.2</text>
<text transform="translate(0 793.5) scale(0.91 1)" x="231.6 278.8 304.0" y="0">0.4</text>
<text transform="translate(0 441.0) scale(0.91 1)" x="231.6 278.8 304.0" y="0">0.6</text>
<text transform="translate(0 88.4) scale(0.91 1)" x="231.6 278.8 304.0" y="0">0.8</text>
<text transform="translate(0 1580.0) scale(0.91 1)" x="416.0 464.3 512.6" y="0">250</text>
<text transform="translate(0 1580.0) scale(0.91 1)" x="862.8 911.1 959.4" y="0">300</text>
<text transform="translate(0 1580.0) scale(0.91 1)" x="1311.2 1359.5 1407.7" y="0">350</text>
<text transform="translate(0 1580.0) scale(0.91 1)" x="1759.7 1807.9 1856.2" y="0">400</text>
<text transform="translate(0 1580.0) scale(0.91 1)" x="2208.1 2256.4 2304.7" y="0">450</text>
</g>
<text class="lab" style="font-size:101px" transform="translate(96.6 1107.6) rotate(-90)">Absorbance</text>
<text class="lab" x="1075" y="1713"><tspan class="sym" dy="2">λ</tspan><tspan dy="-2" dx="1.5"> (nm</tspan><tspan dx="4">)</tspan></text>
</svg></body></html>
